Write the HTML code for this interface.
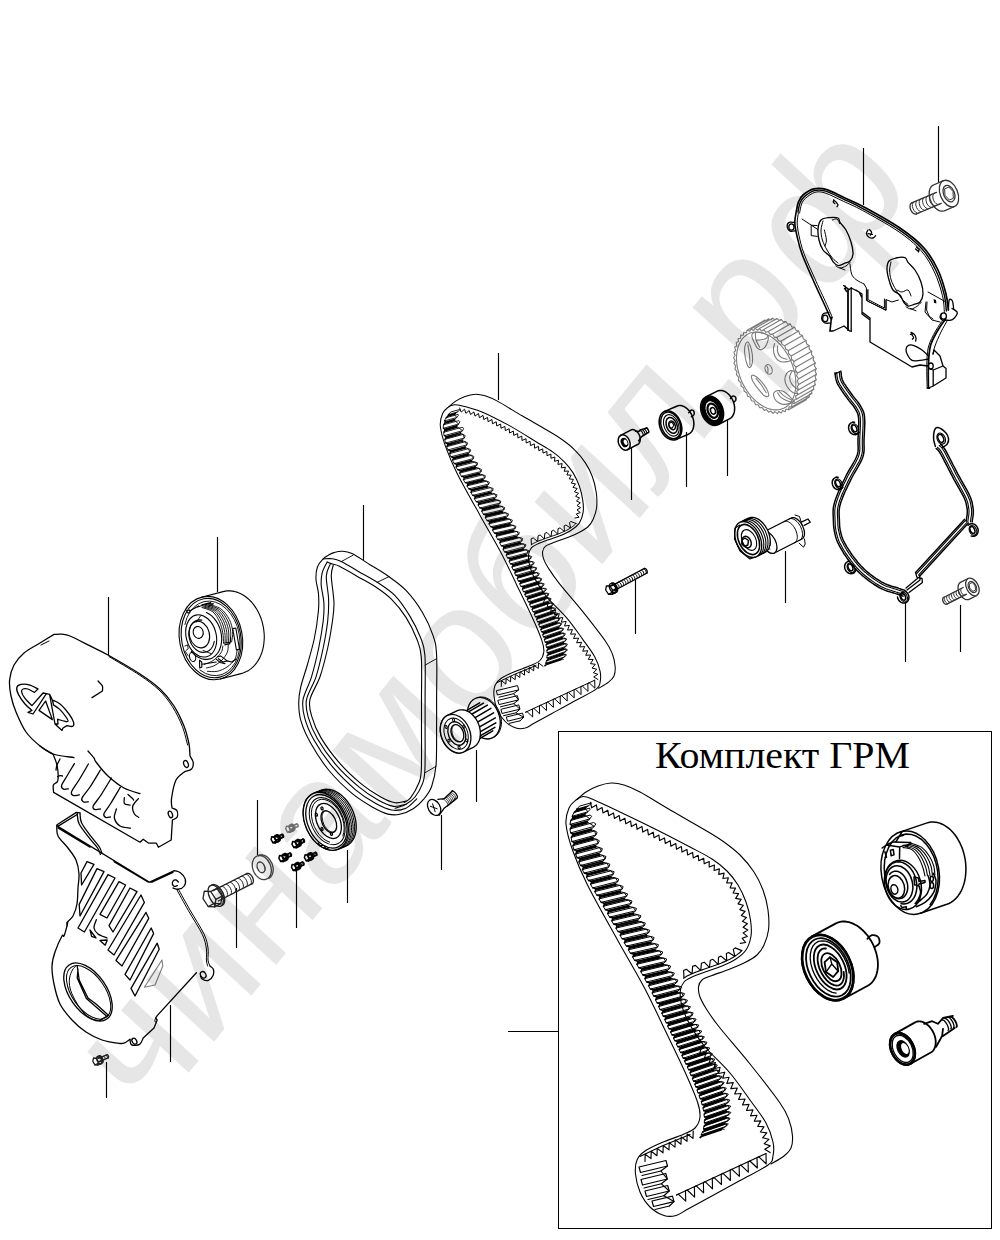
<!DOCTYPE html>
<html lang="ru">
<head>
<meta charset="utf-8">
<title>Комплект ГРМ</title>
<style>
html,body{margin:0;padding:0;background:#fff;}
body{width:1000px;height:1240px;overflow:hidden;position:relative;font-family:"Liberation Sans",sans-serif;}
svg{position:absolute;left:0;top:0;display:block;}
.k{fill:none;stroke:#000;stroke-width:1.3;stroke-linejoin:round;stroke-linecap:round;}
.kf{fill:#fff;stroke:#000;stroke-width:1.3;stroke-linejoin:round;stroke-linecap:round;}
.t{fill:none;stroke:#000;stroke-width:1.0;stroke-linejoin:round;stroke-linecap:round;}
.tf{fill:#fff;stroke:#000;stroke-width:1.0;stroke-linejoin:round;stroke-linecap:round;}
.g{fill:none;stroke:#7c7c7c;stroke-width:1.1;stroke-linejoin:round;stroke-linecap:round;}
.gf{fill:#fff;stroke:#888;stroke-width:1;stroke-linejoin:round;stroke-linecap:round;}
.b{fill:#000;stroke:none;}
.ld{fill:none;stroke:#000;stroke-width:1.15;}
.c2 *{stroke:#222;}.c3 *{stroke:#333;}.c4 *{stroke:#444;}.c7 *{stroke:#777;}
.w11 .k{stroke-width:1.1;}.w11 .t{stroke-width:0.9;}.w15 .k{stroke-width:1.5;}.w15 .t{stroke-width:1.1;}.w18 .k{stroke-width:1.8;}.w18 .t{stroke-width:1.3;}
</style>
</head>
<body>
<svg width="1000" height="1240" viewBox="0 0 1000 1240">
<!-- 01_box.svg -->
<rect x="558.5" y="731.5" width="433" height="497" fill="none" stroke="#000" stroke-width="1"/>
<text x="655" y="767.5" font-family="'Liberation Serif',serif" font-size="37" textLength="255" lengthAdjust="spacingAndGlyphs" fill="#000">Комплект ГРМ</text>
<!-- 02_leaders.svg -->
<g class="ld">
<path d="M938.5 126V182M863.5 148V205M498.5 353V400M363.5 505V560M217.5 537V592M108.5 597V655M631.5 447V500M686.5 432V487M727.5 420V476M785.5 551V603M635.5 580V634M905.5 603V662M960.5 605V652M476.5 750V802M441.5 815V870M347.5 850V903M296.5 870V928M257.5 800V855M236.5 888V948M170.5 1005V1062M106.5 1062V1098M508 1031.5H558"/>
</g>
<!-- 20_mainbelt.svg -->
<g stroke="#000" stroke-width="1.05" stroke-linejoin="round" stroke-linecap="round" fill="none">
<path d="M448.8 406.9C450 405.9 453 402.9 455.7 401.1C458.4 399.4 461.8 397.7 465 396.5C468.2 395.3 471.7 394.3 475 394.2C478.4 394 481.3 394.6 485.1 395.7C488.8 396.9 491.3 397.8 497.4 401.1C503.6 404.5 513.8 410.9 522.1 415.8C530.5 420.7 540.9 426.5 547.6 430.5C554.3 434.4 557.8 436.5 562.3 439.7C566.8 442.9 570.8 445.9 574.6 449.8C578.5 453.6 582.5 458.4 585.4 462.9C588.4 467.4 590.6 471.9 592.4 476.8C594.2 481.7 595.5 487.1 596.2 492.2C597 497.4 597.1 503.2 596.6 507.7C596.1 512.2 594.6 516 593.2 519.2C591.7 522.5 590.2 524.7 587.8 527C585.3 529.2 582 530.9 578.5 532.8C575 534.6 571.2 536.1 566.9 537.8C562.7 539.4 556.6 541.4 553 542.8C549.4 544.2 547 544.8 545.3 546.3C543.6 547.7 542.8 549.5 542.6 551.7C542.3 553.9 542.7 556.4 543.8 559.4C544.8 562.3 546.6 565.4 549.2 569.4C551.7 573.4 553.7 576.4 559.2 583.3C564.7 590.3 574.6 601.5 582.4 611.1C590.1 620.8 600.5 634 605.5 641.2C610.5 648.4 610.8 650.1 612.5 654.3C614.1 658.6 614.9 663.1 615.2 666.7C615.4 670.3 615.1 673.4 614 676C612.9 678.5 611.2 680.1 608.6 682.1C606 684.2 600.2 687.3 598.6 688.3"/>
<path d="M440.3 425.8C439.9 420.4 441.3 416.6 442.6 413.5C443.9 410.4 446.2 408.7 448 407.3C449.8 405.9 451.4 405.3 453.4 405C455.5 404.7 455.6 404.2 460.4 405.4C465.1 406.5 473.9 408.6 482 411.9C490.1 415.3 500 420.5 509 425.4C518 430.4 528.7 437.2 536 441.7C543.4 446.1 548.3 448.7 553 452.1C557.8 455.5 561.2 458.6 564.6 462.1C567.9 465.6 570.6 468.9 573.1 472.9C575.5 476.9 577.7 481.5 579.3 486C580.9 490.5 582.1 495.6 582.7 499.9C583.4 504.3 583.7 508.4 583.1 512.3C582.5 516.2 581.2 520.1 579.3 523.1C577.3 526.1 574.6 528 571.5 530C568.5 532.1 564.7 533.8 560.7 535.5C556.7 537.1 551.5 538.7 547.6 540.1C543.8 541.5 540.3 542.7 537.6 543.9C534.9 545.2 532.9 546.1 531.4 547.8C529.9 549.5 529.1 551.4 528.7 554C528.3 556.6 528.4 559.8 529.1 563.2C529.8 566.7 531.1 570.8 532.9 574.8C534.7 578.8 537.3 583.2 539.9 587.2C542.5 591.2 543.9 593.6 548.4 598.8C552.9 603.9 561.2 611.4 566.9 618.1C572.6 624.7 577.7 632.5 582.4 638.9C587 645.3 591.7 651.3 594.7 656.7C597.7 662.1 599.2 667.1 600.1 671.3C601 675.6 600.7 679.2 600.1 682.1C599.5 685.1 600.5 685.9 596.2 689.1C592 692.2 582.1 696.9 574.6 701C567.2 705.2 558.2 710.1 551.5 713.8C544.8 717.5 538.9 720.7 534.5 723C530.1 725.4 528.3 727.2 525.2 728.1C522.1 728.9 519.3 729.2 516 728.1C512.6 727 508.2 724.5 505.2 721.5C502.1 718.5 499.3 714.2 497.4 709.9C495.6 705.7 494.3 700.1 494 696C493.6 691.9 493.9 688.2 495.1 685.2C496.3 682.3 498.1 680.5 501.3 678.3C504.5 676 509.5 673.8 514.4 671.7C519.3 669.6 526.4 667.4 530.6 665.5C534.9 663.7 537.7 662.8 539.9 660.5C542.1 658.3 543.4 655.4 543.8 652C544.1 648.7 543.8 646.2 541.8 640.4C539.9 634.7 536.4 626.5 532.2 617.3C528 608 522 595.8 516.7 584.9C511.5 573.9 506.6 563.2 500.5 551.7C494.4 540.1 487.3 528.5 480.1 515.4C472.8 502.3 462.7 484.5 456.9 472.9C451.1 461.3 448.1 453.7 445.3 445.9C442.6 438.1 440.8 431.2 440.3 425.8Z"/>
<path d="M451.1 411.9L459.8 409.4L459.4 410.5L457.5 411.9L448.7 414.5ZM446.3 417.7L458.1 414.3L458.3 415.6L456.8 417.5L444.9 420.8ZM443.8 424.7L458.8 420.6L459.9 421.7L458.7 424L443.6 428.2ZM444 432.2L462 427.3L463.7 428.3L462.6 430.7L444.5 435.6ZM445.1 439.3L463.2 434.4L465.2 435.7L464.3 438L445.9 443ZM447 446.6L465.4 441.7L467.6 442.9L466.8 444.9L448.3 449.8ZM449.9 453.5L468.4 448.7L470.6 449.6L470 451.8L451.3 456.7ZM452.8 460.1L471.5 455.3L473.9 456.5L473.4 458.6L454.5 463.5ZM456.3 466.8L475.2 462L477.6 462.9L477.1 465L458.1 469.8ZM459.9 473L479 468.3L481.6 469.4L481.1 471.5L461.8 476.3ZM463.7 479.5L483 474.8L485.4 475.7L484.9 477.8L465.5 482.6ZM467.3 485.8L486.8 481.1L489.4 482.2L488.8 484L469.1 488.8ZM471.1 492.3L490.7 487.6L493.2 488.5L492.7 490.5L472.9 495.3ZM474.7 498.6L494.5 493.9L497 494.8L496.5 496.8L476.5 501.6ZM478.4 504.8L498.4 500.2L500.8 501.1L500.3 503.1L480.1 507.9ZM482 511.1L502.2 506.5L504.8 507.6L504.1 509.5L483.7 514.2ZM485.6 517.4L505.9 512.8L508.6 513.9L507.9 515.8L487.3 520.5ZM489.2 523.7L509.8 519.1L512.4 520.2L511.7 522.1L491 526.7ZM492.8 530L513.3 525.3L516 526.4L515.3 528.3L494.6 533ZM496.4 536.3L516.8 531.4L519.4 532.5L518.7 534.4L498.1 539.3ZM500 542.6L520.2 537.6L522.7 538.5L522.1 540.7L501.6 545.7ZM503.4 549L523.5 543.9L526 544.8L525.2 546.7L504.9 551.9ZM506.5 555L526.5 549.8L528.9 550.7L528.1 552.6L507.9 557.9ZM509.4 561.1L529.3 555.7L531.7 556.6L530.8 558.4L510.7 563.8ZM512.2 566.9L532 561.5L534.3 562.4L533.5 564.1L513.5 569.7ZM515 572.8L534.6 567.3L536.8 567.9L536 569.7L516.1 575.3ZM517.5 578.3L537 572.6L539.3 573.5L538.5 575.3L518.7 581ZM520 583.7L539.5 577.9L541.8 578.8L541 580.6L521.3 586.4ZM522.6 589.1L541.9 583.2L544.2 583.8L543.4 585.6L523.8 591.6ZM525.1 594.3L544.3 588.3L546.6 588.9L545.6 590.5L526.2 596.5ZM527.5 599.2L546.6 593.2L548.9 593.7L548 595.6L528.7 601.7ZM529.9 604.2L548.9 598L551.1 598.6L550.3 600.4L531.1 606.7ZM532.3 609.2L551.2 602.9L553.4 603.5L552.6 605.3L533.4 611.7ZM534.6 614.2L553.4 607.8L555.6 608.4L554.7 610.2L535.7 616.7ZM536.8 619.2L555.6 612.8L557.7 613.4L556.9 615.3L537.9 621.7ZM539 624.2L557.7 617.9L559.8 618.5L559 620.3L540 626.8ZM541 629.4L559.7 623L561.8 623.6L560.8 625.2L541.9 631.7ZM543 634.5L561.6 628.1L563.7 628.7L562.7 630.4L543.8 636.8ZM544.7 639.4L563.4 633.1L565.4 633.7L564.4 635.6L545.5 642.1ZM546.3 644.7L564.9 638.3L566.8 639L565.6 640.7L546.8 647.2ZM547.2 650.1L565.8 643.7L567.5 644.2L566.2 646.2L547.4 652.6ZM547.4 655.4L566 649L567.5 649.7L566 651.4L547.2 657.9ZM546.8 660.8L565.3 654.4L566.6 654.8L564.7 656.8L546 663.2Z" stroke-width="0.85"/><path d="M448.3 415.4L455.3 413.4M447.5 416.4L454.5 414.4M448.7 414.5L448.4 415.2L447.7 416.2L446.3 417.7M445.2 422.1L454.6 419.4M444.8 423.3L454.3 420.6M444.9 420.8L445.2 421.8L444.9 423L443.8 424.7M444.7 429.2L456.7 425.8M444.8 430.7L456.8 427.3M443.6 428.2L444.7 429.2L444.8 430.4L444 432.2M445.8 436.6L460.3 432.6M446.1 438L460.5 434.1M444.5 435.6L445.8 436.3L446 437.5L445.1 439.3M447.5 443.9L462.1 439.9M447.9 445.3L462.5 441.4M445.9 443L447.4 443.6L447.7 444.8L447 446.6M450.1 450.9L464.8 447M450.6 452.1L465.3 448.1M448.3 449.8L450 450.7L450.5 451.8L449.9 453.5M453 457.6L467.9 453.7M453.6 458.9L468.5 455M451.3 456.7L452.9 457.3L453.4 458.5L452.8 460.1M456.3 464.3L471.3 460.4M456.9 465.4L471.9 461.5M454.5 463.5L456.2 464.1L456.8 465.2L456.3 466.8M459.9 470.6L475.1 466.7M460.7 471.9L475.9 468M458.1 469.8L459.8 470.4L460.4 471.4L459.9 473M463.7 477.1L479 473.2M464.3 478.1L479.7 474.3M461.8 476.3L463.6 476.8L464.2 477.9L463.7 479.5M467.3 483.3L482.8 479.5M468.1 484.6L483.6 480.8M465.5 482.6L467.2 483.1L467.8 484.2L467.3 485.8M471.1 489.8L486.8 486M471.7 490.9L487.4 487.1M469.1 488.8L471 489.6L471.6 490.7L471.1 492.3M474.8 496.1L490.6 492.3M475.4 497.2L491.2 493.4M472.9 495.3L474.6 495.9L475.3 497L474.7 498.6M478.4 502.4L494.3 498.6M479.2 503.7L495.1 499.9M476.5 501.6L478.3 502.2L478.9 503.2L478.4 504.8M482 508.7L498.1 504.9M482.8 510L498.9 506.2M480.1 507.9L481.9 508.4L482.5 509.5L482 511.1M485.7 514.9L501.9 511.2M486.4 516.2L502.6 512.5M483.7 514.2L485.7 514.9L486.2 515.8L485.6 517.4M489.3 521.2L505.7 517.5M490 522.5L506.4 518.8M487.3 520.5L489.3 521.2L489.9 522.3L489.2 523.7M492.9 527.5L509.4 523.8M493.7 528.8L510.2 525.1M491 526.7L492.9 527.5L493.5 528.6L492.8 530M496.5 533.8L513 530M497.3 535.1L513.8 531.3M494.6 533L496.5 533.8L497.1 534.9L496.4 536.3M500.1 540.1L516.5 536.2M500.8 541.4L517.2 537.5M498.1 539.3L500.1 540.1L500.6 541L500 542.6M503.5 546.5L519.8 542.5M504.1 547.6L520.4 543.6M501.6 545.7L503.4 546.2L504 547.3L503.4 549M506.8 552.7L523 548.6M507.3 553.8L523.5 549.7M504.9 551.9L506.7 552.4L507.2 553.5L506.5 555M509.8 558.7L525.9 554.5M510.3 559.8L526.4 555.6M507.9 557.9L509.7 558.5L510.2 559.6L509.4 561.1M512.6 564.6L528.6 560.3M513.1 565.7L529.1 561.4M510.7 563.8L512.5 564.3L513 565.5L512.2 566.9M515.3 570.4L531.2 566.1M515.8 571.6L531.7 567.2M513.5 569.7L515.2 570.2L515.6 571.1L515 572.8M517.9 576.1L533.7 571.6M518.4 577.2L534.2 572.8M516.1 575.3L517.8 575.9L518.2 576.8L517.5 578.3M520.4 581.5L536.2 577M521 582.7L536.7 578.1M518.7 581L520.3 581.3L520.9 582.4L520 583.7M523 586.9L538.6 582.3M523.5 587.8L539.1 583.2M521.3 586.4L522.9 586.7L523.3 587.6L522.6 589.1M525.5 592.1L541.1 587.4M525.9 593L541.5 588.3M523.8 591.6L525.4 591.9L525.8 592.8L525.1 594.3M527.9 597.1L543.4 592.2M528.4 598.2L543.9 593.4M526.2 596.5L527.9 597.1L528.3 598L527.5 599.2M530.4 602.2L545.8 597.3M530.8 603.1L546.2 598.2M528.7 601.7L530.3 602L530.7 602.9L529.9 604.2M532.8 607.2L548.1 602.2M533.2 608.1L548.5 603.1M531.1 606.7L532.7 607L533.1 607.9L532.3 609.2M535.1 612.2L550.3 607.1M535.5 613.1L550.7 608M533.4 611.7L535 611.9L535.4 612.8L534.6 614.2M537.3 617.2L552.5 612M537.7 618.1L552.9 612.9M535.7 616.7L537.2 616.9L537.6 617.9L536.8 619.2M539.5 622.2L554.6 617.1M539.9 623.1L555 618M537.9 621.7L539.4 622L539.8 622.9L539 624.2M541.6 627.3L556.7 622.2M542 628.2L557 623.1M540 626.8L541.5 627.1L541.9 628L541 629.4M543.5 632.2L558.5 627.1M543.9 633.4L559 628.2M541.9 631.7L543.5 632.2L543.8 632.9L543 634.5M545.4 637.4L560.4 632.2M545.7 638.3L560.7 633.2M543.8 636.8L545.3 637.1L545.6 638.1L544.7 639.4M547 642.6L562 637.5M547.3 643.6L562.3 638.4M545.5 642.1L547 642.4L547.2 643.3L546.3 644.7M548.2 647.7L563.1 642.6M548.3 648.7L563.3 643.6M546.8 647.2L548.2 647.7L548.3 648.5L547.2 650.1M548.6 653.2L563.6 648.1M548.6 654.2L563.6 649.1M547.4 652.6L548.6 653L548.6 654L547.4 655.4M548.3 658.4L563.2 653.3M548.2 659.4L563.1 654.3M547.2 657.9L548.3 658.4L548.2 659.2L546.8 660.8M546.9 663.7L561.8 658.6M546.5 664.6L561.3 659.5M546 663.2L547 663.5L546.6 664.4L544.9 665.7" stroke-width="1.45"/><path d="M457.5 411.9L454.8 413.9L455 415.2L456.8 417.5L454.3 419.7L455.6 421.4L458.7 424L456.4 426.4L458.9 428L462.6 430.7L460 433.2L463.1 434.4L464.3 438L461.8 440.5L465.2 441.7L466.8 444.9L464.5 447.3L468.2 448.7L470 451.8L467.7 454.2L471.4 455.3L473.4 458.6L471.2 460.9L475 462L477.1 465L475 467.2L478.8 468.2L481.1 471.5L478.9 473.8L482.8 474.8L484.9 477.8L482.7 480L486.6 481L488.8 484L486.5 486.3L490.5 487.6L492.7 490.5L490.4 492.8L494.4 493.8L496.5 496.8L494.2 499.1L498.2 500.1L500.3 503.1L497.9 505.4L502 506.4L504.1 509.5L501.7 511.7L505.8 512.8L507.9 515.8L505.5 518L509.6 519.1L511.7 522.1L509.3 524.3L513.4 525.4L515.3 528.3L512.8 530.5L516.9 531.6L518.7 534.4L516.3 536.8L520.3 537.8L522.1 540.7L519.6 543L523.6 544L525.2 546.7L522.6 548.9L526.6 549.9L528.1 552.6L525.5 554.8L529.4 555.8L530.8 558.4L528.3 560.8L532.1 561.6L533.5 564.1L530.9 566.4L534.7 567.4L536 569.7L533.4 572L537.1 572.7L538.5 575.3L535.9 577.5L539.6 578L541 580.6L538.3 582.6L542 583.3L543.4 585.6L540.7 587.7L544.4 588.4L545.6 590.5L543.2 592.8L546.7 593.3L548 595.6L545.5 597.7L549 598.1L550.3 600.4L547.8 602.6L551.3 603L552.6 605.3L550 607.5L553.5 607.9L554.7 610.2L552.2 612.4L555.6 612.8L556.9 615.3L554.3 617.4L557.7 617.9L559 620.3L556.4 622.5L559.8 623L560.8 625.2L558.3 627.7L561.7 628.1L562.7 630.4L560.1 632.6L563.4 633.1L564.4 635.6L561.7 637.8L564.9 638.3L565.6 640.7L562.8 643.2L565.8 643.7L566.2 646.2L563.2 648.5L566 649L566 651.4L562.8 653.9L565.3 654.4L564.7 656.8L561.2 659L563.4 659.3" stroke-width="0.85"/>
<path d="M459.7 408.1L461.2 412.1L464.5 409.2L465.9 413.3L469.2 410.5L470.5 414.6L473.9 411.9L475 416.1L478.5 413.5L479.4 417.7L483 415.4L483.8 419.6L487.5 417.4L488.1 421.7L491.9 419.5L492.5 423.8L496.2 421.8L496.8 426L500.6 424L501 428.3L504.9 426.4L505.3 430.6L509.2 428.7L509.5 433L513.4 431.1L513.7 435.4L517.6 433.6L517.9 437.9L521.8 436.2L522 440.5L526 438.7L526.2 443L530.1 441.3L530.4 445.6L534.3 443.9L534.6 448.2L538.5 446.4L538.8 450.7L542.7 448.9L543 453.1L546.9 451.4L547 455.7L551 454.1L550.9 458.3L554.9 457L554.5 461.3L558.6 460.2L557.9 464.4L562.2 463.6L561.2 467.8L565.5 467.2L564.2 471.3L568.5 471L566.9 475L571.2 475.1L569.2 478.9L573.5 479.4L571.3 483.1L575.5 483.9L573 487.4L577.2 488.5L574.5 491.8L578.5 493.2L575.6 496.3L579.6 498L576.5 500.9L580.3 502.8L577 505.5L580.6 507.7L577 509.9L580.3 512.6L576.3 514L579 517.3L574.9 518" stroke-width="1.0"/>
<path d="M576 523.5L575.2 524.4L574.3 525.2L573.4 525.9L572.4 526.6L571.4 527.4L570.3 528.1L569.2 528.8L568 529.5L566.7 530.2L565.5 530.8L564.1 531.4L562.7 532.1L561.3 532.7L559.9 533.3L558.3 533.9L556.8 534.5L555.1 535.1L553.4 535.7L551.7 536.2L550 536.8L548.4 537.4L546.8 537.9L545.4 538.4L544 538.9L542.7 539.4L541.3 539.9L540.1 540.4L538.9 540.9L537.7 541.3L536.6 541.8L535.6 542.3L534.6 542.8L533.7 543.2L532.9 543.7L532 544.3L531.3 544.8" stroke-width="1.0"/>
<path d="M576 523.5L570.9 521.5L569.5 522.6L570.6 527.9L570.5 528L565.9 525L564.1 525.9L564.4 531.3L564.2 531.4L560 527.8L558 528.7L557.8 534.1L557.7 534.2L553.7 530.3L551.7 531L551.1 536.4L550.9 536.5L547 532.5L544.8 533.3L544.4 538.8L544.2 538.9L540.2 535L538.1 535.8L537.7 541.3L537.5 541.4L533.2 537.9L531.1 538.9L531.4 544.6L531.3 544.8" stroke-width="1.0"/>
<path d="M544.8 598.7L543.3 603.5L548.3 602.5L547 607.4L551.9 606.3L550.7 611.2L555.6 609.9L554.4 614.8L559.3 613.6L557.9 618.5L562.8 617.4L561.3 622.2L566.2 621.4L564.5 626L569.4 625.4L567.5 630.1L572.5 629.6L570.5 634.2L575.6 633.9L573.5 638.5L578.6 638.1L576.6 642.8L581.6 642.3L579.7 647L584.7 646.5L582.7 651.2L587.8 650.7L585.7 655.3L590.7 655L588.3 659.4L593.2 659.5L590.4 663.6L595.3 664.3L592.1 668.1L596.9 669.3L593.3 672.7L597.9 674.3L593.7 676.9L597.9 679.5" stroke-width="1.0"/>
<path d="M594.7 680.2L594.9 688.2L589.2 682.8L587.8 683.4L588 691.4L582.3 686L580.9 686.6L581.1 694.6L575.4 689.2L574 689.8L574.2 697.8L568.4 692.4L567.1 693L567.2 701L561.5 695.6L560.2 696.2L560.3 704.2L554.6 698.8L553.2 699.4L553.4 707.4L547.7 702L546.3 702.6L546.5 710.6L540.8 705.2L539.4 705.8L539.6 713.8L533.9 708.4L532.5 709L532.7 717L527 711.6L525.6 712.2" stroke-width="1.0"/>
<path d="M594.7 680.2L525.6 712.2" stroke-width="1.0"/>
<path d="M501.3 686.4L501.4 680.7L505.9 684.1L506.1 678.5L510.6 681.9L510.7 676.3L515.2 679.7L515.3 674.1L519.8 677.5L520 671.8L524.5 675.2L524.6 669.6L529.1 673L529.2 667.4L533.7 670.8L533.9 665.1L538.3 668.5L538.5 662.9L543 666.3" stroke-width="1.0"/>
<path d="M497.4 682.5L514.4 674.4L536 665.5" stroke-width="1.0"/>
<path d="M496.7 690.6L517.5 685.6L518.7 689.9L497.8 694.9ZM499 697.2L513.6 693.7M498.2 700.3L517.4 695.7L518.5 699.9L499.4 704.5ZM500.5 706.8L513.9 703.6M501.3 709.2L518.8 704.9L520 709.2L502.4 713.4ZM503.6 715.7L515.9 712.8M506.7 716.9L522.5 713.1L523.7 717.3L507.9 721.1ZM509 723.4L520.1 720.8" stroke-width="1.0"/>
<path d="M518.7 689.9L513.6 693.7L518.5 699.9L513.9 703.6L520 709.2L515.9 712.8L523.7 717.3L520.1 720.8" stroke-width="1.0"/>
</g>
<!-- 21_vbelt.svg -->
<g class="w11"><path class="k" d="M323.2 558.9C325 556.9 326.4 556.3 328.2 555.3C330 554.2 331.7 553.3 334 552.6C336.3 551.9 339.1 551 342.1 551.2C345.1 551.3 347.3 551.2 352 553.5C356.6 555.7 364 560.9 370 564.7C376 568.4 382 571.7 388 576C394 580.3 400.3 584.4 406 590.4C411.7 596.4 417.7 604.5 422.2 612C426.7 619.5 430.6 628.2 433 635.4C435.4 642.6 436 644.4 436.6 655.2C437.2 666 436.6 688.4 436.6 700C436.6 711.7 436.7 714.2 436.6 725C436.5 735.8 436.9 754.4 436.1 764.6C435.2 774.8 433.7 780.5 431.7 786.2C429.7 791.9 427.1 795 424 798.8C420.9 802.5 417.2 806.1 413.2 808.7C409.1 811.3 403.9 813.4 399.7 814.3C395.5 815.2 392.3 815.2 388 814.1C383.6 813 379.6 811.2 373.6 807.8C367.6 804.3 359.5 799.7 352 793.4C344.5 787.1 335.5 778.4 328.6 770C321.7 761.6 315.2 751.1 310.6 743C306 734.9 303 728 301.1 721.4C299.1 714.8 298.8 709.1 298.7 703.4C298.7 697.7 299.3 693.4 300.7 687.2C302.1 681 304.7 674 307 666C309.2 658 312.3 648 314.2 639C316.1 630 317.6 619.5 318.3 612C319.1 604.5 318.9 599.4 318.5 594C318.1 588.6 316.2 584.1 316 579.6C315.8 575.1 316.2 570.4 317.4 567C318.6 563.5 321.4 560.8 323.2 558.9Z"/>
<path class="k" d="M323.2 558.9C324.7 558.9 329.2 558.3 332.2 558.7C335.2 559.2 336.7 559.4 341.2 561.6C345.7 563.8 353.2 568.4 359.2 571.9C365.2 575.3 371.2 578.3 377.2 582.3C383.2 586.3 389.8 590.2 395.2 595.8C400.6 601.3 405.4 608.7 409.6 615.6C413.8 622.5 417.8 630.6 420.4 637.2C422.9 643.8 424.1 644.7 424.9 655.2C425.7 665.7 425 688.4 425.1 700C425.1 711.7 425.1 713.3 425.1 725C425 736.7 425.4 760.1 424.9 770C424.4 779.9 423.8 779.9 422.2 784.4C420.5 788.9 417.7 793.7 415 797C412.3 800.3 409.3 802.3 406 804.2C402.7 806.1 397 807.5 395.2 808.2"/>
<path class="k" d="M327.2 562C328.1 562.3 330.5 563.4 332.6 564.1C334.6 564.8 335.3 564.2 339.4 566.3C343.5 568.3 351.4 572.9 357.4 576.4C363.4 579.8 369.7 583 375.4 586.8C381.1 590.6 386.5 594.3 391.6 599.4C396.7 604.5 401.8 610.8 406 617.4C410.2 624 414.2 632.4 416.8 639C419.3 645.6 420.5 646.8 421.3 657C422.1 667.2 421.4 688.7 421.5 700C421.5 711.4 421.5 713.3 421.5 725C421.4 736.7 421.8 760.2 421.3 770C420.8 779.7 420.4 778.8 418.6 783.5C416.8 788.1 412.9 794.7 410.5 797.9C408.1 801 405.2 801.6 404.2 802.4"/>
<path class="k" d="M327.2 562C326.3 563.7 323.3 568.6 322.3 572.4C321.3 576.2 320.9 579.9 321.2 585C321.5 590.1 323.6 597 323.9 603C324.2 609 324.1 613.5 323.2 621C322.3 628.5 320.6 638.7 318.7 648C316.7 657.3 314.1 668.2 311.5 676.8C308.9 685.4 304.2 693 303 699.8C301.9 706.6 302.9 711.2 304.7 717.8C306.4 724.4 309.1 731.3 313.7 739.4C318.2 747.5 325.2 758 332.2 766.4C339.2 774.8 348.4 783.6 355.6 789.8C362.8 795.9 369.4 799.9 375.4 803.3C381.4 806.7 386.5 809.1 391.6 810C396.7 810.8 401.8 810 406 808.2C410.2 806.3 415 800.4 416.8 798.8"/>
<path class="k" d="M330.4 563.9C329.7 565.9 326.6 570.1 326.3 576C326 581.9 328.4 591.9 328.6 599.4C328.8 606.9 328.6 612.9 327.7 621C326.8 629.1 325.1 638.7 323.2 648C321.2 657.3 318.8 668.2 316 676.8C313.2 685.4 307.7 693 306.5 699.8C305.2 706.6 306.5 711 308.3 717.4C310.1 723.9 312.7 730.6 317.3 738.5C321.8 746.4 328.8 756.5 335.8 764.6C342.8 772.7 352.1 781.2 359.2 787.1C366.2 793 372.4 796.8 378.1 800.1C383.8 803.3 388.7 805.7 393.4 806.4C398 807 403.9 804.6 406 804.2"/>
<path class="k" d="M333.3 565.2C332.9 567 331.2 569.7 331.3 576C331.4 582.3 333.8 595.2 334 603C334.1 610.8 333.2 615.3 332.2 622.8C331.1 630.3 329.7 639 327.7 648C325.7 657 322.9 668.2 320 676.8C317 685.4 311.2 693.1 309.9 699.8C308.5 706.5 310 710.6 311.9 716.9C313.7 723.2 316.3 729.9 320.9 737.6C325.4 745.2 332.6 755 339.4 762.8C346.2 770.6 355 778.7 361.9 784.4C368.8 790.1 375.2 793.9 380.8 797C386.3 800.1 391 802.1 395.2 802.8C399.4 803.4 404.2 801.3 406 801"/>
<path class="t" d="M341.2 561.6L352.9 555.3M377.2 582.3L388.9 576.7M425.1 665.1L436.4 658.8M425.1 772.7L435.9 766.4"/></g>
<!-- 22_ucover.svg -->
<g><path class="k" d="M54 634.4C55.3 634.4 59.3 633.9 62 634.2C64.7 634.5 65.5 634.1 70 636C74.5 637.9 82.7 642.2 89 645.4C95.3 648.6 99.5 650.2 108 655C116.5 659.8 131.3 668.3 140 674C148.7 679.7 154.3 683.7 160 689C165.7 694.3 170 699.8 174 706C178 712.2 181.5 719.7 184 726C186.5 732.3 188 739 189 744C190 749 189.8 754 190 756C190.5 757.1 192.9 760.2 193.2 762.4C193.5 764.6 193 767.5 191.6 769C190.2 770.5 186.1 771 185 771.4C183.5 772.8 178.2 775.6 176 780C173.8 784.4 172.3 793.3 171.6 798C170.9 802.7 171.9 806.3 172 808C172.8 808.4 175.9 808.9 176.8 810.4C177.7 811.9 177.9 815.4 177.2 817C176.5 818.6 173.2 819.5 172.4 820L171.2 840L158.4 847.2L156.4 843.2L148.4 843L143.2 839.2L140 842.2L53.6 792.4C53.6 791.2 52.7 787 53.4 785C54.1 783 57.2 783.8 57.8 780.6C58.4 777.4 58 770.4 57.2 766C56.4 761.6 53.7 756 53 754C50.8 752.7 44.5 749.7 40 746C35.5 742.3 30 737.7 26 732C22 726.3 18.5 718 16 712C13.5 706 12.1 701.3 11 696C9.9 690.7 9.1 685.2 9.6 680C10.1 674.8 11.6 669.5 14 665C16.4 660.5 19.7 656.7 24 653C28.3 649.3 35 646.1 40 643C45 639.9 51.7 635.8 54 634.4Z"/>
<path class="t" d="M109 656.6C114.2 659.7 131.7 669.8 140 675.4C148.3 681 153.6 684.8 159 690C164.4 695.2 168.5 700.5 172.4 706.6C176.3 712.7 179.9 720.2 182.4 726.6C184.9 733 186.7 741.9 187.6 745"/>
<ellipse class="k" cx="186" cy="764" rx="2.2" ry="3.6" transform="rotate(-20 186 764)"/>
<ellipse class="k" cx="170.4" cy="814.4" rx="2" ry="3.4" transform="rotate(-20 170.4 814.4)"/>
<path class="t" d="M41 645L49 641"/>
<path class="k" d="M98 681C98.7 681.8 101.7 684.3 102.4 686C103.1 687.7 102.4 690.2 102.4 691M102.4 691L92 697.6"/>
<path class="k" d="M40 746C42.2 747.3 47.3 752.1 53 754C58.7 755.9 70.5 757 74 757.6"/>
<path class="k" d="M88 751C89 752.2 92.7 756.2 94 758C95.3 759.8 93.7 759 96 762C98.3 765 103.3 771.7 108 776C112.7 780.3 118.7 785.1 124 788C129.3 790.9 137.3 792.7 140 793.6"/>
<path class="k" d="M60 759C59.5 760 57.7 763.2 57 765C56.3 766.8 56.2 769.2 56 770"/>
<path class="k" d="M74.4 763.6C73.2 765.7 69.1 772.3 67 776C64.9 779.7 62.2 783.4 61.6 785.6C61 787.8 62.5 788.7 63.6 789.2C64.7 789.7 67.6 788.9 68.4 788.8"/>
<path class="k" d="M88.4 764C86.8 766.7 81.8 775.4 79 780C76.2 784.6 72.5 789 71.6 791.6C70.7 794.2 72.3 795.1 73.6 795.6C74.9 796.1 78.4 794.9 79.4 794.8"/>
<path class="k" d="M100.4 770C98.7 772.8 93.1 782.3 90 787C86.9 791.7 83.1 795.5 82 798C80.9 800.5 82.5 801.4 83.6 802C84.7 802.6 87.6 801.8 88.4 801.8"/>
<path class="k" d="M111.4 778C109.7 780.8 104 790.3 101 795C98 799.7 94.2 803.6 93.2 806C92.2 808.4 94 809.1 95.2 809.6C96.4 810.1 99.5 809.1 100.4 809"/>
<path class="k" d="M120.4 787.2C118.8 789.8 113.7 798.6 111 803C108.3 807.4 104.9 811.2 104 813.6C103.1 816 104.5 816.8 105.6 817.4C106.7 818 109.6 817.1 110.4 817"/>
<path class="k" d="M116.4 809C116.1 810.5 113.8 815.2 114.4 818C115 820.8 117.3 824.3 120 826C122.7 827.7 128.7 827.8 130.4 828.2"/>
<path class="k" d="M124.4 797.6C124.4 798.6 123.5 802.3 124.4 803.6C125.3 804.9 129.1 804.9 130 805.2"/>
<path class="k" d="M138.4 798.6C137.5 799.8 133.5 803.4 132.8 806C132.1 808.6 133.4 812.1 134.4 814C135.4 815.9 138.1 816.8 138.8 817.4"/>
<path class="k" d="M128 794.4C128.7 795 131.1 797.1 132 798C132.9 798.9 133.3 799.7 133.6 800"/>
<path class="k" d="M57.6 776.6C58 776.4 59.2 775.7 60 775.6C60.8 775.5 62 775.9 62.4 776"/>
<path class="k" d="M38 689C36.7 688.3 32.8 685.8 30 685C27.2 684.2 23.2 684 21 684.4C18.8 684.8 17.2 685.9 16.8 687.6C16.4 689.3 17 691.7 18.4 694.4C19.8 697.1 22.7 701.3 25 704C27.3 706.7 30.8 709.3 32 710.4M34.4 692.4C33.3 691.8 29.9 689.6 28 689C26.1 688.4 24.1 688.5 23 689C21.9 689.5 21.3 690.4 21.6 692C21.9 693.6 23.3 696.1 25 698.4C26.7 700.7 30.8 704.4 32 705.6M38 689L34.4 692.4M52.4 700C53.7 700.7 57.2 701.7 60 704C62.8 706.3 66.7 710.9 69 714C71.3 717.1 73 720.3 73.6 722.4C74.2 724.5 73.5 725.9 72.4 726.4C71.3 726.9 67.9 725.7 67 725.6M53.6 705C54.7 705.8 57.9 707.6 60 709.6C62.1 711.6 64.7 715.1 66 717C67.3 718.9 68.3 720.5 68 721.2C67.7 721.9 66.1 721.5 64.4 721.2C62.7 720.9 58.7 719.5 57.6 719.2M52.4 700L53.6 705M32 710.4L28 712.4L33 714L46.4 693.6L49.6 694.4L52.4 700M32 705.6L43 693L46.4 693.6M49.6 694.4L55 724L62 730.4L63 728L67 725.6M57.6 719.2L58 724L55 724M45.6 701L39 710.4L52.4 719.6Z"/></g>
<!-- 23_lcover.svg -->
<g><path class="k" d="M57 824.8L76.4 812.4L80 812.8M57.8 826.4L77.6 814.2"/>
<path class="k" d="M56.6 825.6L149.6 882.2L174.4 870.6M58 828L90 847.2M114 861.6L148 882L152.4 882L173 872.4"/>
<path class="k" d="M174.4 870.6C175.4 871 178.6 871.4 180.4 872.8C182.2 874.2 184.6 876.6 185.2 878.8C185.8 881 185.3 884.3 184.2 886C183.1 887.7 180.3 888.9 178.4 889.2C176.5 889.5 173.9 888.2 173 888"/>
<path class="k" d="M177.4 885.6C176.9 885.7 175.2 886.7 174.4 886.4C173.6 886.1 172.6 884.9 172.4 884C172.2 883.1 172.6 881.5 173.2 880.8C173.8 880.1 175.1 879.8 176 880C176.9 880.2 178 881.7 178.4 882"/>
<path class="k" d="M77.2 813.6C77.5 815.3 77.1 819.9 79.2 824C81.3 828.1 86.5 834.4 89.6 838.4C92.7 842.4 95.8 845.3 97.6 848C99.4 850.7 99.9 853.3 100.4 854.4M80 813.2C80.3 814.8 79.7 819.1 81.6 823C83.5 826.9 88.2 832.6 91.2 836.6C94.2 840.6 97.6 844.2 99.4 847C101.2 849.8 101.6 852.5 102 853.6"/>
<path class="k" d="M56.8 825.6C57 827.3 56.1 832.3 58 836C59.9 839.7 65 844 68 848C71 852 74.2 855.7 76 860C77.8 864.3 78.7 869.3 79 874C79.3 878.7 78.3 883 78 888C77.7 893 77.8 899.3 77 904C76.2 908.7 74.4 913.2 73 916C71.6 918.8 69.4 919.5 68.4 921C67.4 922.5 67.9 922.5 67.2 925C66.5 927.5 64.9 934.2 64 936C63.1 937.8 63.5 933.3 62 936C60.5 938.7 56.7 947 55 952C53.3 957 52.2 960.7 52 966C51.8 971.3 52.7 977.7 54 984C55.3 990.3 57 998 60 1004C63 1010 67.7 1015.3 72 1020C76.3 1024.7 81 1028.7 86 1032C91 1035.3 96.7 1038.1 102 1040C107.3 1041.9 114.3 1042.7 118 1043.2C121.7 1043.7 122 1043.8 124 1043.2C126 1042.6 129 1040 130 1039.4"/>
<path class="t" d="M68.4 921C68.1 921.2 66.8 921.6 66.6 922.4C66.4 923.2 67.1 925.4 67.2 926"/>
<path class="k" d="M130 1039.4C130.3 1040.3 130 1044 131.6 1044.8C133.2 1045.6 137.7 1045.5 139.6 1044.4C141.5 1043.3 142.6 1039.1 143.2 1038M143.2 1038L154 1028L157.2 1020L155.6 1018L157.2 1015.6L196.4 972.8"/>
<ellipse class="k" cx="134.4" cy="1041.2" rx="2.2" ry="3.2" transform="rotate(-30 134.4 1041.2)"/>
<path class="t" d="M155.6 1018C155.5 1018.5 154.7 1020.3 154.8 1021C154.9 1021.7 155.8 1022.2 156 1022.4"/>
<path class="t" d="M178.4 889.2C180.3 892.7 185.7 902.5 190 910C194.3 917.5 201 927.7 204 934C207 940.3 207.3 943.7 208 948C208.7 952.3 207.7 957 208 960C208.3 963 209.7 965 210 966M176.8 889.6C178.7 893.1 184.1 903.1 188.4 910.6C192.7 918.1 199.4 928.2 202.4 934.6C205.4 941 205.7 944.8 206.4 949C207.1 953.2 206.2 957.2 206.4 960C206.6 962.8 207.4 965 207.6 966"/>
<path class="k" d="M210 966C210.6 966.5 212.9 967.7 213.4 969.2C213.9 970.7 214 973.3 213.2 975.2C212.4 977.1 210.2 979.7 208.4 980.4C206.6 981.1 203.7 979.9 202.4 979.2C201.1 978.5 200.7 976.5 200.4 976"/>
<ellipse class="k" cx="203.2" cy="974.8" rx="2.6" ry="3.4" transform="rotate(-30 203.2 974.8)"/>
<ellipse class="k" cx="88" cy="992" rx="33" ry="18.5" transform="rotate(55 88 992)"/>
<ellipse class="t" cx="88.6" cy="992.4" rx="30.5" ry="16.5" transform="rotate(55 88.6 992.4)"/>
<path class="t" d="M76.4 965.6C75.7 966.3 73.5 967.9 72.4 970C71.3 972.1 70 975 69.6 978C69.2 981 69.1 984.3 70 988C70.9 991.7 72.8 996 75 1000C77.2 1004 80.2 1008.8 83 1012C85.8 1015.2 89.2 1017.6 92 1019C94.8 1020.4 98.7 1020.2 100 1020.4"/>
<path class="k" d="M77.2 966L79.2 980L88 998L96 1004L108.4 1015.2M78 969L77.2 978L86.4 998.4L94.4 1005.6L107 1016.4M100 1020.4L108.4 1015.2"/>
<path class="k" d="M87 861.6L94 864.4L81.6 885L81 873Z"/>
<path class="k" d="M97 868.6L104 871.6L80 916L79.2 904.4Z"/>
<path class="k" d="M108 874.6L115 878L84.4 932L78 928Z"/>
<path class="k" d="M119 881.6L125.6 885L107 918L100 914.4Z"/>
<path class="k" d="M130 888L137 891.6L113 932L109 925.6Z"/>
<path class="k" d="M141 895L144.4 902.4L114 955L108 950Z"/>
<path class="k" d="M146 912.4L148.8 918.4L122 966L116 960.4Z"/>
<path class="k" d="M151.2 928L153.6 933.6L130 980L125 974.4Z"/>
<path class="k" d="M157.2 943.2L159.2 949.2L135 996L131 988.4Z"/>
<path class="g" d="M162 960L162.8 966L155 985L144.4 987.2Z"/>
<path class="k" d="M96.4 919.6C96 921 93.7 925.6 94 928C94.3 930.4 95.8 932.3 98 934C100.2 935.7 105.5 937.3 107 938M90 930L96 938L91.6 936.4ZM100 940.4L107.2 940L105.2 945.2Z"/></g>
<!-- 24_rcover.svg -->
<g><path class="k" d="M796.4 211C796.7 209.5 797.3 204.7 798.4 202C799.5 199.3 800.4 197.2 803 195C805.6 192.8 810.2 189.7 814 188.8C817.8 187.9 820.8 187.9 826 189.4C831.2 190.9 838.7 195.1 845 198C851.3 200.9 854.8 202 864 207C873.2 212 890 221.2 900 228C910 234.8 917.7 241 924 248C930.3 255 934.3 262.3 938 270C941.7 277.7 944.3 287.3 946 294C947.7 300.7 948 307.3 948.4 310" style="stroke-width:1.7"/>
<path class="k" d="M798 212C798.3 210.5 798.9 205.6 800 203C801.1 200.4 802 198.7 804.4 196.6C806.8 194.5 810.9 191.5 814.4 190.6C817.9 189.7 820.6 189.7 825.6 191.2C830.6 192.7 838.1 196.7 844.4 199.6C850.7 202.5 854.1 203.8 863.2 208.8C872.3 213.8 889.1 222.9 899 229.6C908.9 236.3 916.2 242.3 922.4 249.2C928.6 256.1 932.6 263.4 936.2 271C939.8 278.6 942.5 287.9 944.2 294.6C945.9 301.3 946 308.3 946.4 311" style="stroke-width:1.4"/>
<path class="t" d="M799.6 213C799.9 211.5 800.6 206.5 801.6 204C802.6 201.5 803.4 200.1 805.6 198.2C807.8 196.3 811.5 193.3 814.8 192.4C818.1 191.5 820.4 191.5 825.2 193C830 194.5 837.4 198.5 843.6 201.4C849.8 204.3 853.3 205.4 862.4 210.4C871.5 215.4 888.2 224.5 898 231.2C907.8 237.9 914.9 243.8 921 250.6C927.1 257.4 930.8 264.5 934.4 272C938 279.5 940.7 288.7 942.4 295.4C944.1 302.1 944.1 309.6 944.4 312.4"/>
<path class="k" d="M796.4 211C796.1 212.9 794.7 218.2 794.8 222.4C794.9 226.6 795.8 230.7 797 236C798.2 241.3 799.2 246.3 802 254C804.8 261.7 810 273 814 282C818 291 823.2 301.8 826 308C828.8 314.2 830.1 317.3 831 319C831.9 320.7 831.6 316 831.4 318C831.2 320 830.2 328.8 830 331" style="stroke-width:1.6"/>
<path class="t" d="M798.4 213C798.2 214.7 797.1 219.2 797.2 223C797.3 226.8 797.9 230.5 799 235.6C800.1 240.7 801.2 246 804 253.6C806.8 261.2 812 272.3 816 281.2C820 290.1 825.3 301.1 828 307.2C830.7 313.3 831.7 315.9 832.4 317.6"/>
<path class="k" d="M794.8 222.4C793.8 222.4 790.3 221.6 789 222.4C787.7 223.2 787 225.5 787.2 227C787.4 228.5 788.6 230.6 790 231.2C791.4 231.8 794.7 230.9 795.6 230.8"/>
<ellipse class="k" cx="791.4" cy="227" rx="2.6" ry="3.2"/>
<path class="k" d="M829 312.4C828.1 312.6 824.8 312.6 823.6 313.6C822.4 314.6 821.5 316.9 821.6 318.4C821.7 319.9 823 322 824.4 322.8C825.8 323.6 829.1 323.1 830 323.2"/>
<ellipse class="k" cx="825.2" cy="318.4" rx="2.6" ry="3.2"/>
<path class="k" d="M830 331L833.2 331L844 326L850 331.2L851.2 331.2"/>
<path class="k" d="M848 300L848 330M848 290L848 328" style="stroke-width:1.8"/>
<path class="k" d="M851.2 288L851.2 330M851.2 290L851.2 331.2"/>
<path class="k" d="M843.6 285.6L849 289.6L851.2 288M844.4 288.4L846.8 291.6M845.2 286L846 291"/>
<path class="k" d="M821 220C822.8 218.1 826.2 217.9 829 217.6C831.8 217.3 836.2 217.2 838 218C839.8 218.8 838.7 220.4 840 222.4C841.3 224.4 844.2 226.7 846 230C847.8 233.3 849.8 238 851 242C852.2 246 853.2 250.8 853 254C852.8 257.2 851.5 259.4 850 261C848.5 262.6 846 262.8 844 263.6C842 264.4 839.7 265.8 838 265.6C836.3 265.4 835 264 833.6 262.4C832.2 260.8 831.4 258.1 829.6 256C827.8 253.9 824.8 252.7 823 250C821.2 247.3 819.8 243.5 819 240C818.2 236.5 817.7 232.3 818 229C818.3 225.7 819.2 221.9 821 220Z"/>
<path class="t" d="M823 221C822.7 222.5 821.1 226.8 821 230C820.9 233.2 821.4 236.7 822.4 240C823.4 243.3 825.3 247 827 250C828.7 253 830.6 255.8 832.4 258C834.2 260.2 837.1 262.2 838 263"/>
<path class="t" d="M836 266C836.7 266.3 838.3 268 840 268C841.7 268 844.3 266.9 846 266C847.7 265.1 849.3 263 850 262.4M840 268L845 270"/>
<path class="t" d="M824.4 230C824.7 231.7 826.3 237.3 826.4 240C826.5 242.7 825.2 245 825 246M832.4 220C833.2 219.8 835.8 218.4 837 219C838.2 219.6 839.2 222.8 839.6 223.6"/>
<path class="k" d="M889 261C890.5 259.2 893.3 258.6 896 258C898.7 257.4 903 256.9 905 257.6C907 258.3 906.3 260.3 908 262.4C909.7 264.5 912.8 266.7 915 270C917.2 273.3 919.7 278 921 282C922.3 286 923.2 290.7 923 294C922.8 297.3 921.5 300.3 920 302C918.5 303.7 916 303.7 914 304.4C912 305.1 909.7 306.4 908 306C906.3 305.6 904.9 303.8 903.6 302C902.3 300.2 901.8 297 900 295C898.2 293 894.8 292.5 893 290C891.2 287.5 890 283.5 889 280C888 276.5 887 272.2 887 269C887 265.8 887.5 262.8 889 261Z"/>
<path class="t" d="M891 262C890.8 263.3 889.6 267 889.6 270C889.6 273 890.1 276.7 891.2 280C892.3 283.3 894.2 286.8 896 290C897.8 293.2 900 296.6 902 299C904 301.4 907 303.5 908 304.4"/>
<path class="t" d="M906 306.8C906.8 307.2 909.2 309.1 911 309C912.8 308.9 915.3 307.5 917 306.4C918.7 305.3 920.3 303.1 921 302.4M910 308.4L916 310.8"/>
<path class="t" d="M897 290C897.8 290.3 900.2 292 902 292C903.8 292 906.5 289.3 908 290C909.5 290.7 910.5 295 911 296"/>
<path class="k" d="M833.6 200C834 200.3 835.3 201.2 836 202C836.7 202.8 837.8 204.2 838 205C838.2 205.8 837.2 206.3 837 206.6M834 200C833.9 200.3 833.1 201.4 833.2 202C833.3 202.6 834.5 203.3 834.8 203.6"/>
<path class="k" d="M868 230C867.7 230.6 866.2 232.4 866.4 233.6C866.6 234.8 867.9 236.5 869 237.2C870.1 237.9 871.9 238.3 873 238C874.1 237.7 875.2 236 875.6 235.6M869.6 229.6C869.9 230.1 871.5 231.5 871.6 232.4C871.7 233.3 870.6 234.7 870.4 235.2M868 233.6L872.4 234.4"/>
<path class="k" d="M916.4 247L919.2 249.6L918.4 252M915.6 249L917.6 250.8"/>
<path class="t" d="M802 219L818 229.6M817.2 225.6L811.2 225.2L811.2 235.6L817.2 236.4"/>
<path class="t" d="M850 264C850.3 265.7 850.6 271.4 851.6 274C852.6 276.6 853.9 277.9 856 279.6C858.1 281.3 862.7 283.3 864 284M864 284L866.4 288L866.4 300.4L886 310.4L886 299.6L892 302L898.4 300"/>
<path class="t" d="M868 289.6L868 299.6L884.4 308L884.4 299"/>
<path class="k" d="M851.2 288L859 292L862 298L862 314L870 320L870 330M856 290L862 294L862 312L870 318L870 342L912 367L920 365L928 366"/>
<path class="t" d="M867.2 290L867.2 301L886 310L886 300"/>
<path class="t" d="M928 292L946 302M927 302L926.6 310L929 316L933 319M926 302L925 312L932 320L940 322"/>
<path class="b" d="M933.6 299L936 300L936.4 303.6L934 302.8Z"/>
<path class="k" d="M948.4 310C948.5 308.3 948.5 301.5 949.2 300C949.9 298.5 951.7 299.7 952.4 301C953.1 302.3 953.4 306.8 953.6 308M952 308.4C952.9 309.1 956.8 310.8 957.2 312.4C957.6 314 955.6 316.7 954.4 318C953.2 319.3 951.6 320.1 950 320.4C948.4 320.7 945.8 320.1 945 320"/>
<ellipse class="k" cx="943.6" cy="316" rx="2.8" ry="3.2"/>
<path class="k" d="M941.2 314C941 314.5 939.9 316 940 317C940.1 318 941.1 319.5 942 320C942.9 320.5 945 320 945.6 320"/>
<path class="k" d="M945.6 319C944.3 320.8 940.5 325.5 938 330C935.5 334.5 932 340 930.4 346C928.8 352 928.7 359 928.4 366C928.1 373 928.4 384.3 928.4 388" style="stroke-width:1.7"/>
<path class="t" d="M943.2 319.6C941.9 321.5 938.1 326.4 935.6 331C933.1 335.6 929.9 341.2 928.4 347C926.9 352.8 927 359.2 926.8 366C926.6 372.8 927.1 384.3 927.2 388M947.6 320C946.5 322 943.1 327.7 941 332C938.9 336.3 936.3 342.3 935 346C933.7 349.7 933.3 352.7 933 354"/>
<path class="k" d="M927.2 388L929.6 388.4"/>
<path class="k" d="M933 354L934 350L940 356L943 366L946 368.4L946 378L933.2 386L933.2 370L943 366M928.4 388L933.2 386M933.2 370L930 369"/>
<ellipse class="k" cx="930.8" cy="366" rx="2.4" ry="3"/>
<path class="k" d="M928.4 359C927 359.2 922.7 360.2 920 360.4C917.3 360.6 914.1 361.3 912 360.4C909.9 359.5 908.6 356.9 907.6 355C906.6 353.1 905.8 350.6 906 349C906.2 347.4 907.7 345.8 909 345.2C910.3 344.6 911.8 344.8 914 345.6C916.2 346.4 919.6 348.3 922 350C924.4 351.7 927.3 355 928.4 356"/>
<path class="k" d="M911 332.4C911.6 332.7 913.6 333.5 914.4 334.4C915.2 335.3 915.8 336.9 916 338C916.2 339.1 915.7 340.5 915.6 341M912 335C912.3 335.4 913.5 336.9 913.6 337.6C913.7 338.3 912.6 338.9 912.4 339.2M910.4 334.4L912.8 333.6"/></g>
<!-- 25_gasket.svg -->
<g><g class="w15"><path class="k" d="M835 372.8L835.1 373.5L835.2 374.3L835.3 375.4L835.5 376.8L835.7 378.2L836.1 379.9L836.6 381.6L837.3 383.3L838.2 385L839.2 386.7L840.4 388.5L841.6 390.4L842.9 392.2L844.1 394L845.4 395.7L846.6 397.4L847.8 399L849 400.6L850.3 402.2L851.5 403.7L852.7 405.1L853.7 406.5L854.6 407.8L855.4 409.1L856.1 410.4L856.7 411.5L857.2 412.4L857.6 413.3L857.9 414.2L858.2 415.2L858.4 416.6L858.6 418.2L858.7 420.3L858.8 422.8L858.7 425.6L858.6 428.5L858.4 431.5L858.3 434.5L858.1 437.3L858 439.9L858 442.3L858 444.4L858.1 446.3L858.2 448.1L858.1 449.8L858 451.4L857.7 453.1L857.2 455L856.3 457.2L855.2 459.5L853.9 462L852.4 464.6L850.8 467.3L849.2 470L847.7 472.6L846.3 475.2L845.1 477.7L843.9 480.2L842.7 482.6L841.5 485L840.5 487.3L839.4 489.6L838.5 491.8L837.6 493.9L836.9 495.8L836.2 497.6L835.6 499.3L835 501L834.5 502.6L834.1 504.2L833.7 505.9L833.4 507.5L833.2 509.3L833.1 511L833.1 512.7L833.1 514.3L833.2 515.8L833.3 517.3L833.3 518.8L833.4 520.1L833.4 521.4L833.5 522.7L833.5 523.9L833.6 525.1L833.7 526.4L833.8 527.7L834 529.1L834.3 530.6L834.6 532L834.9 533.5L835.2 535L835.6 536.6L836.1 538.3L836.7 540L837.4 541.8L838.3 543.7L839.3 545.6L840.4 547.7L841.6 549.7L842.9 551.9L844.2 554L845.7 556.1L847.1 558.2L848.6 560.2L850.1 562.1L851.6 564.1L853.1 566L854.7 567.9L856.4 569.8L858.2 571.6L860.1 573.5L862 575.3L864.1 577L866.4 578.8L868.7 580.6L871.1 582.3L873.5 584L875.9 585.5L878.3 587L880.6 588.3L882.9 589.4L885.3 590.4L887.6 591.2L889.9 591.9L892 592.6L893.9 593.1L895.6 593.6L897.1 594L898.3 594.5L899.4 594.8L900.3 595.1L901.1 595.4L901.7 595.6L902.2 595.8L902.7 595.9L903.1 596M841 372L841.1 372.8L841.2 373.7L841.3 374.8L841.4 375.9L841.6 377.1L841.9 378.3L842.2 379.5L842.7 380.7L843.4 382.1L844.3 383.6L845.4 385.2L846.5 386.9L847.8 388.7L849 390.5L850.3 392.2L851.4 393.8L852.6 395.4L853.7 396.9L854.9 398.4L856.2 399.9L857.4 401.4L858.6 403L859.6 404.5L860.6 406.1L861.3 407.4L862 408.6L862.6 409.8L863.2 411.1L863.7 412.5L864.1 414L864.4 415.7L864.6 417.8L864.7 420.1L864.8 422.8L864.7 425.8L864.6 428.8L864.4 431.8L864.3 434.8L864.1 437.6L864 440.1L864 442.2L864 444.2L864.1 446.1L864.1 448.1L864.1 450.1L863.9 452.2L863.5 454.5L862.8 457L861.8 459.6L860.6 462.2L859.1 464.9L857.6 467.7L856 470.4L854.4 473L853 475.5L851.7 478L850.5 480.4L849.3 482.8L848.1 485.2L847 487.6L845.9 489.8L844.9 492L844 494.1L843.2 496.1L842.4 498L841.8 499.7L841.2 501.3L840.7 502.8L840.3 504.2L839.9 505.6L839.6 507L839.4 508.5L839.2 509.8L839.1 511.2L839.1 512.7L839.1 514.1L839.2 515.5L839.2 517L839.3 518.4L839.4 519.9L839.4 521.2L839.5 522.5L839.5 523.7L839.6 524.8L839.6 525.9L839.7 527L839.9 528.2L840.1 529.4L840.4 530.8L840.7 532.2L841 533.6L841.4 535L841.8 536.5L842.4 537.9L843 539.5L843.7 541.1L844.6 542.8L845.6 544.7L846.7 546.7L848 548.7L849.3 550.7L850.6 552.7L852 554.7L853.4 556.6L854.8 558.5L856.3 560.3L857.7 562.2L859.3 563.9L860.8 565.7L862.5 567.4L864.2 569.1L866 570.7L867.9 572.4L870 574.1L872.3 575.8L874.5 577.4L876.8 579L879.1 580.4L881.3 581.8L883.4 582.9L885.4 583.9L887.5 584.8L889.6 585.5L891.6 586.2L893.7 586.8L895.6 587.3L897.4 587.8L898.9 588.4L900.2 588.8L901.3 589.2L902.2 589.5L902.9 589.7L903.6 589.9L904.1 590.1L904.5 590.2L904.9 590.4"/><path class="t" d="M839.3 372.2L839.4 373L839.5 373.9L839.6 375L839.7 376.2L839.9 377.4L840.2 378.8L840.6 380.1L841.2 381.5L841.9 382.9L842.9 384.5L843.9 386.2L845.1 387.9L846.4 389.7L847.6 391.5L848.9 393.2L850.1 394.8L851.2 396.4L852.4 397.9L853.6 399.5L854.9 401L856 402.5L857.2 404L858.2 405.5L859.1 406.9L859.9 408.3L860.5 409.4L861.1 410.5L861.6 411.7L862 413L862.4 414.4L862.7 416L862.9 417.9L863 420.2L863.1 422.8L863 425.7L862.9 428.7L862.7 431.7L862.6 434.7L862.4 437.5L862.3 440L862.3 442.3L862.3 444.3L862.4 446.2L862.4 448.1L862.4 450L862.3 452L861.9 454.1L861.2 456.4L860.3 458.9L859.1 461.5L857.6 464.1L856.1 466.8L854.5 469.5L852.9 472.2L851.5 474.7L850.2 477.2L848.9 479.6L847.7 482.1L846.6 484.5L845.4 486.8L844.4 489.1L843.4 491.4L842.4 493.5L841.6 495.5L840.9 497.4L840.2 499.1L839.6 500.7L839.1 502.3L838.7 503.8L838.3 505.3L838 506.7L837.7 508.2L837.5 509.7L837.4 511.2L837.4 512.7L837.4 514.1L837.5 515.6L837.5 517.1L837.6 518.5L837.7 519.9L837.7 521.3L837.8 522.5L837.8 523.7L837.9 524.9L837.9 526.1L838.1 527.2L838.2 528.4L838.5 529.8L838.8 531.1L839.1 532.6L839.4 534L839.8 535.5L840.2 537L840.8 538.5L841.4 540.2L842.2 541.8L843.1 543.6L844.1 545.5L845.3 547.5L846.5 549.6L847.8 551.6L849.2 553.7L850.6 555.7L852 557.6L853.5 559.5L854.9 561.4L856.4 563.2L858 565.1L859.6 566.9L861.3 568.6L863 570.3L864.9 572L866.9 573.7L869 575.4L871.2 577.1L873.6 578.8L875.9 580.4L878.2 581.9L880.5 583.3L882.6 584.4L884.7 585.5L886.8 586.4L889 587.1L891.1 587.8L893.2 588.4L895.1 589L896.9 589.5L898.4 590L899.7 590.4L900.8 590.8L901.7 591.1L902.4 591.3L903 591.5L903.6 591.7L904 591.8L904.4 592M836.7 372.6L836.8 373.3L836.9 374.2L837 375.3L837.1 376.5L837.4 377.9L837.7 379.4L838.2 381L838.8 382.5L839.7 384.2L840.7 385.8L841.8 387.6L843 389.4L844.3 391.2L845.5 393L846.8 394.7L847.9 396.4L849.1 398L850.4 399.6L851.6 401.1L852.8 402.6L854 404.1L855.1 405.5L856 406.9L856.9 408.3L857.6 409.5L858.2 410.7L858.8 411.7L859.2 412.6L859.5 413.7L859.8 414.9L860.1 416.3L860.3 418.1L860.4 420.3L860.5 422.8L860.4 425.6L860.3 428.6L860.1 431.6L860 434.6L859.8 437.4L859.7 440L859.7 442.3L859.7 444.4L859.8 446.3L859.9 448.1L859.8 449.9L859.7 451.6L859.3 453.5L858.8 455.6L857.9 457.9L856.7 460.3L855.4 462.9L853.9 465.5L852.3 468.2L850.7 470.8L849.2 473.5L847.8 476L846.6 478.5L845.4 480.9L844.2 483.3L843.1 485.7L842 488L841 490.3L840 492.5L839.2 494.5L838.4 496.4L837.8 498.2L837.2 499.9L836.6 501.5L836.2 503.1L835.7 504.6L835.4 506.2L835.1 507.8L834.9 509.4L834.8 511.1L834.8 512.7L834.8 514.2L834.9 515.8L835 517.2L835 518.7L835.1 520.1L835.1 521.4L835.2 522.6L835.2 523.8L835.3 525L835.3 526.3L835.5 527.5L835.7 528.9L835.9 530.2L836.2 531.7L836.5 533.1L836.9 534.6L837.3 536.2L837.8 537.8L838.3 539.4L839 541.2L839.8 543L840.8 544.8L841.9 546.8L843 548.9L844.3 551L845.7 553.1L847.1 555.1L848.5 557.2L850 559.2L851.4 561.1L852.9 563L854.4 564.9L856 566.8L857.7 568.6L859.4 570.4L861.2 572.2L863.1 574L865.2 575.7L867.4 577.5L869.7 579.2L872.1 580.9L874.5 582.6L876.8 584.1L879.2 585.5L881.4 586.8L883.6 587.8L885.9 588.8L888.2 589.6L890.4 590.3L892.5 590.9L894.4 591.5L896.1 592L897.6 592.4L898.8 592.9L899.9 593.2L900.8 593.5L901.6 593.8L902.2 594L902.8 594.2L903.2 594.3L903.6 594.4"/></g>
<path class="k" d="M835 374L841 371"/>
<g class="w15"><path class="k" d="M936.2 448.5L936.7 448.9L937.2 449.3L937.5 449.6L937.8 449.9L938.3 450.3L938.8 451L939.5 452.1L940.4 453.5L941.5 455.5L942.8 457.9L944.3 460.8L945.9 463.8L947.5 467L949.2 470.3L950.8 473.4L952.4 476.4L953.9 479.3L955.6 482.3L957.3 485.3L958.9 488.2L960.5 491.1L962 493.7L963.3 496.1L964.3 498.2L965 500L965.6 501.6L966 502.9L966.3 504.1L966.5 505.3L966.7 506.3L966.9 507.4L967 508.5L967.2 509.4L967.3 510.2L967.3 510.8L967.3 511.4L967.3 512L967.3 512.6L967.2 513.2L967.2 513.8L967.2 514.3L967.1 514.8L967.1 515.2L967 515.6L966.9 516L966.8 516.5L966.7 517L966.6 517.6L966.6 518.1L966.5 518.7L966.4 519.2L966.4 519.7L966.3 520.2L966.3 520.7L966.2 521L966.2 521.3M940.6 444.3L940.7 444.5L940.9 444.7L941.4 445L942.1 445.6L942.8 446.4L943.6 447.5L944.6 448.8L945.6 450.5L946.8 452.6L948.1 455.2L949.6 458L951.2 461.1L952.8 464.3L954.5 467.5L956.1 470.7L957.6 473.6L959.2 476.4L960.8 479.4L962.5 482.3L964.2 485.3L965.8 488.1L967.3 490.9L968.6 493.4L969.7 495.8L970.6 497.8L971.3 499.7L971.8 501.4L972.2 502.9L972.4 504.2L972.6 505.4L972.8 506.5L973 507.5L973.1 508.6L973.3 509.6L973.3 510.6L973.3 511.5L973.3 512.2L973.3 512.9L973.2 513.6L973.2 514.2L973.2 514.9L973.1 515.5L973 516.1L972.9 516.7L972.8 517.2L972.7 517.6L972.6 518L972.6 518.4L972.5 518.9L972.5 519.4L972.4 519.9L972.3 520.4L972.3 520.8L972.3 521.3L972.2 521.6L972.2 521.9"/><path class="t" d="M939.3 445.5L939.6 445.8L939.9 446L940.3 446.3L940.9 446.8L941.5 447.5L942.3 448.5L943.1 449.7L944.1 451.3L945.3 453.4L946.6 455.9L948.1 458.8L949.7 461.9L951.3 465.1L953 468.3L954.6 471.5L956.1 474.4L957.7 477.2L959.3 480.2L961 483.2L962.7 486.1L964.3 489L965.8 491.7L967.1 494.2L968.2 496.5L969 498.5L969.7 500.2L970.2 501.8L970.5 503.2L970.8 504.5L970.9 505.7L971.1 506.7L971.3 507.8L971.5 508.8L971.6 509.8L971.6 510.7L971.6 511.4L971.6 512.2L971.6 512.8L971.5 513.5L971.5 514.1L971.5 514.7L971.4 515.3L971.3 515.9L971.2 516.4L971.1 516.9L971 517.3L971 517.7L970.9 518.2L970.8 518.7L970.8 519.2L970.7 519.7L970.7 520.2L970.6 520.7L970.6 521.1L970.5 521.5L970.5 521.7M937.5 447.3L937.8 447.7L938.2 448L938.6 448.3L939 448.7L939.5 449.2L940.2 450L940.9 451.1L941.9 452.7L943 454.7L944.3 457.2L945.8 460L947.4 463.1L949 466.3L950.7 469.5L952.3 472.7L953.9 475.6L955.4 478.5L957.1 481.5L958.8 484.4L960.4 487.4L962 490.2L963.5 492.9L964.8 495.4L965.8 497.5L966.6 499.4L967.2 501.1L967.7 502.5L968 503.8L968.2 505L968.4 506.1L968.5 507.1L968.7 508.2L968.9 509.2L969 510L969 510.8L969 511.4L969 512.1L969 512.7L968.9 513.3L968.9 513.9L968.9 514.5L968.8 515L968.7 515.5L968.7 515.9L968.6 516.4L968.5 516.8L968.4 517.3L968.3 517.8L968.2 518.3L968.2 518.9L968.1 519.4L968.1 519.9L968 520.4L968 520.8L967.9 521.2L967.9 521.5"/></g>
<g class="w15"><path class="k" d="M964.4 519.4L915.6 572.6M968.4 523L919.6 576.2"/><path class="t" d="M967.3 522L918.5 575.2M965.5 520.4L916.7 573.6"/></g>
<path class="k" d="M915.6 572.4L916.8 577.2L922 578.4L922.4 582.4L909 592.4M919.6 575.6L920 580L907 590M918 578L906 588"/>
<g class="w15"><path class="k" d="M859.3 432.3C859.1 432.5 858.7 433.1 858.3 433.4C858 433.8 857.6 434 857.1 434.2C856.7 434.4 856.2 434.6 855.7 434.7C855.2 434.7 854.7 434.7 854.2 434.6C853.7 434.6 853.2 434.4 852.7 434.2C852.3 434 851.8 433.7 851.4 433.4C850.9 433 850.5 432.6 850.2 432.2C849.9 431.8 849.6 431.3 849.3 430.8C849.1 430.3 848.9 429.7 848.8 429.2C848.7 428.6 848.6 428.1 848.6 427.5C848.7 427 848.7 426.4 848.9 425.9C849 425.4 849.2 425 849.5 424.5C849.8 424.1 850.1 423.7 850.5 423.4C850.8 423 851.2 422.8 851.7 422.6C852.1 422.4 852.6 422.2 853.1 422.1C853.6 422.1 854.3 422.2 854.6 422.2"/><ellipse class="k" cx="854.4" cy="428.4" rx="2.2" ry="3.6" transform="rotate(-25 854.4 428.4)"/><ellipse class="t" cx="854.9" cy="428.7" rx="3.5" ry="5" transform="rotate(-25 854.9 428.7)"/></g>
<g class="w15"><path class="k" d="M842.9 487.3C842.7 487.5 842.3 488.1 841.9 488.4C841.6 488.8 841.2 489 840.7 489.2C840.3 489.4 839.8 489.6 839.3 489.7C838.8 489.7 838.3 489.7 837.8 489.6C837.3 489.6 836.8 489.4 836.3 489.2C835.9 489 835.4 488.7 835 488.4C834.5 488 834.1 487.6 833.8 487.2C833.5 486.8 833.2 486.3 832.9 485.8C832.7 485.3 832.5 484.7 832.4 484.2C832.3 483.6 832.2 483.1 832.2 482.5C832.3 482 832.3 481.4 832.5 480.9C832.6 480.4 832.8 480 833.1 479.5C833.4 479.1 833.7 478.7 834.1 478.4C834.4 478 834.8 477.8 835.3 477.6C835.7 477.4 836.2 477.2 836.7 477.1C837.2 477.1 837.9 477.2 838.2 477.2"/><ellipse class="k" cx="838" cy="483.4" rx="2.2" ry="3.6" transform="rotate(-25 838 483.4)"/><ellipse class="t" cx="838.5" cy="483.7" rx="3.5" ry="5" transform="rotate(-25 838.5 483.7)"/></g>
<g class="w15"><path class="k" d="M856 569.3C856 569.6 855.8 570.4 855.5 570.8C855.3 571.3 855 571.7 854.7 572.1C854.4 572.4 854 572.8 853.6 573C853.1 573.3 852.7 573.4 852.2 573.6C851.7 573.7 851.2 573.7 850.7 573.7C850.2 573.7 849.7 573.6 849.2 573.4C848.7 573.2 848.2 573 847.8 572.7C847.4 572.4 846.9 572 846.6 571.6C846.2 571.2 845.9 570.8 845.6 570.3C845.3 569.8 845.1 569.2 844.9 568.7C844.8 568.2 844.7 567.6 844.6 567.1C844.6 566.5 844.7 566 844.8 565.5C844.9 564.9 845 564.4 845.3 564C845.5 563.5 845.8 563.1 846.1 562.7C846.4 562.4 846.8 562 847.2 561.8C847.7 561.5 848.4 561.3 848.6 561.2"/><ellipse class="k" cx="850.4" cy="567.4" rx="2.2" ry="3.6" transform="rotate(-25 850.4 567.4)"/><ellipse class="t" cx="850.9" cy="567.7" rx="3.5" ry="5" transform="rotate(-25 850.9 567.7)"/></g>
<g class="w15"><path class="k" d="M905.3 591.2C905.6 591.4 906.3 591.8 906.6 592.2C907 592.6 907.4 593 907.7 593.5C908 593.9 908.3 594.4 908.5 595C908.7 595.5 908.8 596 908.9 596.6C909 597.1 909 597.7 908.9 598.2C908.9 598.7 908.7 599.3 908.5 599.7C908.4 600.2 908.1 600.7 907.8 601.1C907.5 601.5 907.2 601.8 906.8 602.1C906.4 602.4 905.9 602.7 905.5 602.8C905 603 904.5 603.1 904 603.1C903.5 603.1 903 603.1 902.5 602.9C902 602.8 901.5 602.6 901.1 602.4C900.6 602.1 900.1 601.8 899.8 601.4C899.4 601 899 600.6 898.7 600.1C898.4 599.7 898.1 599.2 897.9 598.6C897.7 598.1 897.6 597.3 897.5 597"/><ellipse class="k" cx="903.2" cy="596.8" rx="2.2" ry="3.6" transform="rotate(-25 903.2 596.8)"/><ellipse class="t" cx="903.7" cy="597.1" rx="3.5" ry="5" transform="rotate(-25 903.7 597.1)"/></g>
<g class="w15"><path class="k" d="M968.1 525.3C968.3 525.2 968.8 524.6 969.2 524.4C969.7 524.1 970.1 524 970.6 523.8C971.1 523.7 971.6 523.7 972.1 523.7C972.6 523.7 973.1 523.8 973.6 524C974.1 524.2 974.6 524.4 975 524.7C975.4 525 975.9 525.4 976.2 525.8C976.6 526.2 976.9 526.6 977.2 527.1C977.5 527.6 977.7 528.2 977.9 528.7C978 529.2 978.1 529.8 978.2 530.3C978.2 530.9 978.1 531.4 978 531.9C977.9 532.5 977.8 533 977.5 533.4C977.3 533.9 977 534.3 976.7 534.7C976.4 535 976 535.4 975.6 535.6C975.1 535.9 974.7 536 974.2 536.2C973.7 536.3 973.2 536.3 972.7 536.3C972.2 536.3 971.5 536 971.2 536"/><ellipse class="k" cx="972.4" cy="530" rx="2.2" ry="3.6" transform="rotate(-25 972.4 530)"/><ellipse class="t" cx="972.9" cy="530.3" rx="3.5" ry="5" transform="rotate(-25 972.9 530.3)"/></g>
<g class="w15"><path class="k" d="M935.4 446.4C935.1 445.2 933.8 441.7 933.6 439C933.4 436.3 933.7 432.3 934.4 430.4C935.1 428.5 936.1 427.2 938 427.6C939.9 428 944.2 431.1 946 433C947.8 434.9 948.4 437.1 948.6 439C948.8 440.9 948 443 947 444.4C946 445.8 943.2 447.1 942.4 447.6"/><ellipse class="k" cx="940.8" cy="438.4" rx="2.6" ry="4.2" transform="rotate(-25 940.8 438.4)"/><ellipse class="t" cx="941.2" cy="438.6" rx="4" ry="5.8" transform="rotate(-25 941.2 438.6)"/></g></g>
<!-- 26_gear.svg -->
<g><path class="g" d="M785.2 411.7L782.6 410.6L781.4 413L778.8 411.5L777.4 413.6L774.8 411.6L773.1 413.3L770.7 411L768.7 412.2L766.5 409.6L764.2 410.4L762.2 407.5L759.8 407.8L758.1 404.7L755.5 404.6L754 401.3L751.4 400.7L750.3 397.3L747.6 396.2L746.8 392.8L744.2 391.3L743.6 387.9L741.1 386.1L740.9 382.7L738.5 380.5L738.7 377.3L736.4 374.7L737 371.8L734.9 368.9L735.8 366.3L733.9 363.2L735.2 360.8L733.6 357.5L735.1 355.5L733.9 352.1L735.7 350.5L734.7 347.1L736.8 345.9L736.2 342.5L738.4 341.8L738.2 338.5L740.6 338.2L740.7 335L743.3 335.2L743.8 332.2L746.4 332.9L747.2 330.2L749.8 331.3L751 328.9L753.6 330.4L755 328.4L757.6 330.3L759.3 328.6L761.7 331L763.7 329.7L765.9 332.3L768.2 331.5L770.2 334.4L772.6 334.1L774.3 337.2L776.9 337.4L778.4 340.7L781 341.2L782.1 344.6L784.8 345.7L785.6 349.1L788.2 350.6L788.8 354L791.3 355.9L791.5 359.2L793.9 361.4L793.7 364.6L796 367.2L795.4 370.1L797.5 373L796.6 375.7L798.5 378.8L797.2 381.1L798.8 384.4L797.3 386.4L798.5 389.8L796.7 391.4L797.7 394.8L795.6 396L796.2 399.4L794 400.1L794.2 403.5L791.8 403.7L791.7 406.9L789.1 406.7L788.6 409.7L786 409Z"/>
<path class="g" d="M783.6 408.3L781.4 409.1L779.2 409.7L776.8 409.9L774.3 409.9L771.8 409.5L769.2 408.9L766.7 408L764.1 406.8L761.5 405.3L759 403.5L756.5 401.6L754.1 399.3L751.7 396.9L749.5 394.3L747.5 391.5L745.5 388.5L743.7 385.4L742.1 382.2L740.7 378.9L739.5 375.5L738.5 372.1L737.6 368.7L737 365.4L736.7 362L736.5 358.7L736.6 355.6L736.9 352.5L737.4 349.6L738.1 346.8L739.1 344.3L740.3 341.9L741.6 339.7L743.2 337.8L744.9 336.2L746.8 334.8L748.8 333.6L751 332.8L753.2 332.3L755.6 332L758.1 332.1L760.6 332.4L763.2 333L765.7 334L768.3 335.2L770.9 336.6L773.4 338.4L775.9 340.4L778.3 342.6L780.7 345L782.9 347.7L784.9 350.5L786.9 353.4L788.7 356.5L790.3 359.7L791.7 363L792.9 366.4L793.9 369.8L794.8 373.2L795.4 376.6L795.7 379.9L795.9 383.2L795.8 386.4L795.5 389.4L795 392.3L794.3 395.1L793.3 397.7L792.1 400L790.8 402.2L789.2 404.1L787.5 405.8L785.6 407.2Z"/>
<path class="g" d="M747.2 330.2L764.7 320.2M751 328.9L768.5 318.9M755.1 328.3L772.6 318.3M759.4 328.6L776.9 318.6M763.8 329.6L781.3 319.6M768.3 331.5L785.8 321.5M772.8 334L790.3 324M777.1 337.3L794.6 327.3M781.2 341.1L798.7 331.1M785 345.6L802.5 335.6M788.5 350.5L806 340.5M791.6 355.7L809.1 345.7M794.2 361.3L811.7 351.3M796.2 367.1L813.7 357.1M797.8 372.9L815.3 362.9M798.7 378.7L816.2 368.7M799 384.3L816.5 374.3M798.7 389.7L816.2 379.7M797.8 394.7L815.3 384.7M796.3 399.3L813.8 389.3M794.3 403.4L811.8 393.4M791.7 406.9L809.2 396.9M788.7 409.7L806.2 399.7"/>
<path class="g" d="M764.7 320.2L767.1 320.9L768.5 318.9L770.9 320L772.6 318.3L775 319.9L776.9 318.6L779.2 320.5L781.3 319.6L783.4 321.9L785.8 321.5L787.7 324.1L790.3 324L791.9 326.9L794.6 327.3L796 330.3L798.7 331.1L799.8 334.4L802.5 335.6L803.3 338.9L806 340.5L806.5 343.8L809.1 345.7L809.2 349.1L811.7 351.3L811.5 354.5L813.7 357.1L813.2 360.1L815.3 362.9L814.4 365.7L816.2 368.7L815.1 371.2L816.5 374.3L815.1 376.6L816.2 379.7L814.5 381.6L815.3 384.7L813.4 386.2L813.8 389.3L811.7 390.4L811.8 393.4L809.5 394.1L809.2 396.9L806.9 397.1L806.2 399.7"/>
<ellipse class="g" cx="768.6" cy="369.4" rx="3.4" ry="5" transform="rotate(-20 768.6 369.4)"/>
<path class="g" d="M767 366.2C767.2 366.6 767.9 368 768 369C768.1 370.1 767.8 372 767.8 372.6"/>
<path class="g" d="M752.2 334C752.8 333.1 754.2 332.3 756 332.2C757.8 332.1 761.2 332.8 763.2 333.4C765.2 334 767.2 334.5 768 335.8C768.8 337.1 768.3 339.3 767.8 341.2C767.3 343.1 766.1 345.8 765 347.2C763.9 348.6 762.7 349.4 761.4 349.6C760.1 349.8 758.6 349.4 757.4 348.2C756.2 347 755.1 344.2 754.2 342.4C753.3 340.6 752.5 339 752.2 337.6C751.8 336.2 751.5 334.9 752.2 334Z"/>
<path class="g" d="M755.4 333.4C755.5 334.5 755.3 337.7 756 340C756.7 342.3 759 346 759.6 347.2M768 335.8C767.6 336.3 767 338.1 765.6 338.8C764.2 339.5 761.2 339.8 759.6 340C758 340.2 756.6 340 756 340"/>
<path class="g" d="M746.6 342.4C747.3 341.9 748 341.8 748.8 343C749.6 344.2 750.8 346.9 751.4 349.6C752.1 352.3 752.6 356.5 752.6 359.2C752.6 361.9 752.1 364.4 751.4 365.8C750.8 367.2 749.7 368.1 748.8 367.4C747.9 366.7 746.9 364.2 746.2 361.6C745.5 359 744.8 354.6 744.6 352C744.4 349.4 744.6 347.6 745 346C745.3 344.4 746 342.9 746.6 342.4Z"/>
<path class="g" d="M747.8 344.8C748.1 346.4 749 351 749.4 354.4C749.8 357.8 749.9 363.4 750 365.2"/>
<path class="g" d="M751.4 376.2C751.6 375.2 752.8 374.8 754.2 375.4C755.6 376 757.6 377.5 759.6 379.6C761.6 381.7 764.7 385.6 766.2 388C767.7 390.4 768.3 392.6 768.6 394C768.9 395.4 768.7 396.1 768 396.4C767.3 396.7 766 397 764.4 395.8C762.8 394.6 760.3 391.6 758.4 389.2C756.5 386.8 754.2 383.6 753 381.4C751.8 379.2 751.2 377.2 751.4 376.2Z"/>
<path class="g" d="M756 378.4C756.9 379.5 759.7 382.6 761.4 385C763.1 387.4 765.4 391.5 766.2 392.8"/>
<path class="g" d="M774 392.8C774.6 391.8 776 390.8 777.6 390.6C779.2 390.4 781.4 390.4 783.6 391.6C785.8 392.8 789.1 396 790.8 397.6C792.5 399.2 794 400.2 793.8 401.2C793.6 402.2 791.5 403.1 789.6 403.6C787.7 404.1 784.6 404.6 782.4 404.2C780.2 403.8 777.8 402.5 776.4 401.2C775 399.9 774.2 397.8 773.8 396.4C773.4 395 773.4 393.8 774 392.8Z"/>
<path class="g" d="M777.6 392.8C778.2 393.6 779.4 396.2 781.2 397.6C783 399 786.4 400.5 788.4 401.2C790.4 401.9 792.4 401.7 793.2 401.8M779.4 391.6C780.3 392.4 782.7 395 784.8 396.4C786.9 397.8 790.8 399.6 792 400.2"/>
<path class="g" d="M796.8 372.4C795.8 372.1 792.5 370.4 790.8 370.6C789.1 370.8 787.6 372.1 786.6 373.6C785.6 375.1 784.7 377.4 784.8 379.6C784.9 381.8 785.8 384.6 787.2 386.8C788.6 389 791.4 391.7 793.2 392.8C795 393.9 797 393.3 797.8 393.4M792 371.2C791.6 372.2 789.6 375 789.6 377.2C789.6 379.4 790.6 382.3 792 384.4C793.4 386.5 797 388.9 798 389.8"/>
<path class="g" d="M774.6 343.6C774.4 344.6 773.3 347.4 773.4 349.6C773.5 351.8 774.1 354.8 775.2 356.8C776.3 358.8 778 360.8 780 361.6C782 362.4 785.2 361.9 787.2 361.6C789.2 361.3 791.2 360.1 792 359.8M777.6 346C777.6 347 777 350.1 777.6 352C778.2 353.9 779.6 356.2 781.2 357.4C782.8 358.6 786.2 358.9 787.2 359.2"/></g>
<!-- 27_tpulley.svg -->
<g class="w11"><path class="k" d="M201.5 597.2L223 591.6L225.4 591.1L227.8 590.8L230.3 590.9L232.8 591.1L235.3 591.7L237.8 592.4L240.3 593.5L242.6 594.7L245 596.2L247.2 598L249.4 599.9L251.5 602L253.4 604.4L255.2 606.9L256.9 609.5L258.4 612.3L259.8 615.2L261 618.3L262 621.4L262.8 624.6L263.5 627.8L263.9 631.1L264.2 634.3L264.3 637.6L264.1 640.8L263.8 644L263.3 647.1L262.6 650.1L261.7 653L260.6 655.8L259.4 658.4L257.9 660.9L256.4 663.2L254.6 665.3L252.8 667.2L250.8 668.9L248.7 670.4L246.5 671.6L244.2 672.6L241.9 673.4L220.4 679"/><ellipse class="k" cx="210.9" cy="638.1" rx="42" ry="31.4" transform="rotate(79 210.9 638.1)"/>
<ellipse class="k" cx="211.2" cy="638.1" rx="40" ry="29.6" transform="rotate(79 211.2 638.1)"/>
<path class="t" d="M184.9 624.5L186.9 617.8L190 611.9L194 607.2L198.7 603.7L204 601.6L209.6 601.1L215.3 602.1L220.8 604.6L226 608.6L230.6 613.7L234.4 619.9L237.4 626.8L239.2 634.2L239.9 641.8L239.5 649.2L237.9 656.2L235.3 662.5L231.7 667.7L227.3 671.8L222.2 674.4L216.7 675.6L211 675.2L205.4 673.4L200 670"/>
<ellipse class="k" cx="198.2" cy="632.4" rx="6" ry="5" transform="rotate(75 198.2 632.4)"/>
<ellipse class="k" cx="199.4" cy="634.6" rx="13.5" ry="10" transform="rotate(75 199.4 634.6)"/>
<path class="k" d="M214.3 641.3L213.6 644.1L212.5 646.7L211 648.8L209.2 650.5L207.1 651.7L204.9 652.3L202.5 652.4L200.1 651.9L197.7 650.8L195.5 649.2L193.5 647.1L191.8 644.7L190.4 641.9L189.5 638.9L188.9 635.9L188.9 632.8L189.3 629.9L190.1 627.2L191.3 624.8L193 622.8L194.9 621.3L197 620.3L199.4 619.9L201.8 620.1"/>
<ellipse class="k" cx="201.2" cy="635.9" rx="21.5" ry="15" transform="rotate(75 201.2 635.9)"/>
<path class="k" d="M206.4 612.5L209.1 614L211.7 615.9L214.1 618.3L216.2 621.1L218.1 624.3L219.6 627.7L220.7 631.2L221.4 634.9L221.7 638.6L221.5 642.2L220.9 645.6L219.9 648.8L218.6 651.7L216.8 654.2L214.8 656.3L212.4 657.9L209.9 658.9L207.2 659.4L204.4 659.4L201.6 658.8L198.8 657.6L196.1 656L193.6 653.8L191.3 651.2"/>
<path class="t" d="M196.2 622.4L200.3 616.3M203 650.4L210.7 653.5"/>
<path class="t" d="M201.9 607.5C203.7 608.2 210 609.5 212.9 611.9C215.8 614.3 217.9 618.3 219.5 621.8C221.2 625.3 222.1 629.3 222.8 632.8C223.5 636.3 223.4 641.2 223.5 642.9"/>
<path class="t" d="M202.9 606.8C204.8 607.5 211.4 608.8 214.5 611.3C217.6 613.7 219.8 617.8 221.5 621.4C223.2 624.9 224.2 629 224.8 632.6C225.4 636.1 225 641 225.1 642.7"/>
<path class="t" d="M203.9 606C205.9 606.8 212.8 608.2 216.1 610.7C219.3 613.2 221.7 617.3 223.5 620.9C225.2 624.5 226.2 628.8 226.8 632.4C227.3 636 226.7 640.8 226.7 642.5"/>
<path class="t" d="M204.9 605.3C207 606.1 214.2 607.5 217.7 610.1C221.1 612.6 223.6 616.8 225.4 620.5C227.3 624.2 228.3 628.5 228.7 632.1C229.2 635.8 228.4 640.6 228.3 642.3"/>
<path class="t" d="M205.9 604.5C208.1 605.3 215.6 606.8 219.2 609.4C222.8 612 225.5 616.3 227.4 620C229.3 623.8 230.3 628.3 230.7 631.9C231.1 635.6 230.1 640.4 230 642"/>
<path class="t" d="M206.9 603.8C209.2 604.6 217.1 606.2 220.8 608.8C224.6 611.5 227.4 615.8 229.4 619.6C231.4 623.4 232.3 628 232.7 631.7C233.1 635.4 231.8 640.1 231.6 641.8"/>
<path class="k" d="M197.5 607L207.4 603.7L213.5 603.7L208.5 606.4M201.9 604.8L210.7 602.6"/>
<path class="k" d="M223.9 643.3L230.5 642.2L230.7 637.2M224.8 644.9L230 643.6"/>
<path class="k" d="M232.7 628.6L235.8 628L239.5 649.1L236.4 650Z"/>
<path class="t" d="M222.8 646C222.6 646.9 222.6 649.7 221.7 651.5C220.8 653.3 219 655.4 217.3 657C215.7 658.7 214 660.2 211.8 661.4C209.6 662.6 205.4 664 204.1 664.5M228.3 644.9C228.1 646.2 228.3 650 227.2 652.6C226.1 655.2 223.9 658.1 221.7 660.3C219.5 662.5 216.6 664.5 214 665.8C211.4 667.1 207.6 667.6 206.3 668M237.1 650.4C236.7 651.9 236.6 656.5 234.9 659.2C233.3 662 230.1 664.9 227.2 666.9C224.3 668.9 220.6 670.6 217.3 671.3C214 672 209.1 671.3 207.4 671.3"/>
<path class="k" d="M217.3 657L220.6 655.9L227.2 660.9L231.6 662L236 659.2M218.4 658.7L222.8 662L227.2 660.9M216.2 659.2L220.1 662.5L225 663.6"/>
<path class="k" d="M199.5 660.3L201.7 662L201.9 666.9L199.7 668ZM201.9 664.2L216.2 662"/>
<ellipse class="k" cx="192.6" cy="657" rx="3" ry="4.6" transform="rotate(-15 192.6 657)"/>
<path class="k" d="M186.5 610.8L189.3 609.9L190 612.1L188.2 613.2ZM190 610.8L198.6 605.9"/>
<path class="t" d="M184.9 646L187.6 644.9L188.2 648.8L186 650.4M185.4 651.5L188.2 655.9"/></g>
<!-- 28_bolts_r.svg -->
<g><g class="c3"><path class="k" d="M954.5 206.5L944.3 210.8L943.7 211L943 211.2L942.3 211.2L941.6 211.2L940.9 211.1L940.1 210.9L939.4 210.7L938.6 210.3L937.8 209.9L937.1 209.4L936.4 208.8L935.6 208.2L934.9 207.5L934.2 206.8L933.6 206L933 205.1L932.4 204.2L931.8 203.3L931.3 202.3L930.9 201.3L930.5 200.3L930.1 199.2L929.8 198.2L929.6 197.1L929.4 196.1L929.3 195.1L929.2 194.1L929.2 193.1L929.2 192.1L929.4 191.2L929.5 190.3L929.8 189.5L930 188.7L930.4 188L930.8 187.3L931.2 186.7L931.7 186.2L932.2 185.7L932.8 185.3L933.4 185L943.5 180.7"/><ellipse class="k" cx="949" cy="193.6" rx="8.7" ry="14" transform="rotate(-23 949 193.6)"/><ellipse class="k" cx="949" cy="193.6" rx="5.4" ry="8.7" transform="rotate(-23 949 193.6)"/><path class="t" d="M953 191.9L953.4 198.3L949.4 200L945 195.3L944.6 188.9L948.6 187.2Z"/><path class="k" d="M941.2 203.4L916.4 214M936.5 192.4L911.7 202.9"/><path class="k" d="M916.4 214L915.2 214.1L914 213.7L912.7 212.8L911.6 211.5L910.7 209.9L910.1 208.1L910 206.3L910.2 204.8L910.8 203.6L911.7 202.9"/><path class="t" d="M939.2 204.3L937.7 204.4L936.1 203.7L934.7 202.2L933.5 200.2L932.9 198L932.8 195.9L933.4 194.2L934.5 193.2M935.8 205.7L934.3 205.9L932.7 205.1L931.3 203.6L930.1 201.6L929.5 199.4L929.4 197.3L930 195.6L931.1 194.7M932.4 207.2L930.9 207.3L929.3 206.6L927.9 205.1L926.7 203.1L926.1 200.8L926 198.7L926.6 197.1L927.7 196.1M929 208.6L927.5 208.7L925.9 208L924.5 206.5L923.3 204.5L922.7 202.3L922.6 200.2L923.2 198.5L924.3 197.6M925.6 210.1L924.1 210.2L922.5 209.4L921 208L919.9 206L919.3 203.7L919.2 201.6L919.8 200L920.9 199M922.2 211.5L920.7 211.6L919.1 210.9L917.6 209.4L916.5 207.4L915.8 205.2L915.8 203.1L916.4 201.4L917.5 200.5M918.7 213L917.3 213.1L915.7 212.3L914.2 210.8L913.1 208.8L912.4 206.6L912.4 204.5L913 202.9L914.1 201.9"/></g>
<g class="c3"><path class="k" d="M976.7 595.5L969.1 599.3L968.7 599.5L968.3 599.6L967.8 599.7L967.3 599.7L966.8 599.7L966.3 599.6L965.8 599.5L965.2 599.3L964.7 599L964.2 598.7L963.6 598.4L963.1 598L962.6 597.6L962.1 597.1L961.6 596.6L961.2 596L960.7 595.4L960.3 594.8L959.9 594.2L959.6 593.5L959.3 592.9L959 592.2L958.7 591.5L958.5 590.8L958.3 590.1L958.2 589.4L958.1 588.7L958 588L958 587.4L958.1 586.8L958.1 586.2L958.3 585.6L958.4 585L958.6 584.5L958.8 584.1L959.1 583.6L959.4 583.3L959.7 582.9L960.1 582.6L960.5 582.4L968.1 578.5"/><ellipse class="k" cx="972.4" cy="587" rx="5.9" ry="9.5" transform="rotate(-27 972.4 587)"/><ellipse class="k" cx="972.4" cy="587" rx="3.7" ry="5.9" transform="rotate(-27 972.4 587)"/><path class="t" d="M975 585.7L975.6 590L973 591.3L969.8 588.3L969.2 584L971.8 582.7Z"/><path class="k" d="M966.5 594.2L946.9 604.2M963.1 587.5L943.5 597.5"/><path class="k" d="M946.9 604.2L946.2 604.3L945.4 604.2L944.6 603.6L943.8 602.9L943.2 601.9L942.8 600.8L942.6 599.7L942.7 598.7L943 598L943.5 597.5"/><path class="t" d="M965.1 594.9L964.2 595.1L963.2 594.7L962.2 593.8L961.4 592.6L960.9 591.2L960.8 589.9L961.1 588.9L961.7 588.2M962.8 596.1L961.9 596.3L960.8 595.9L959.8 595L959 593.8L958.5 592.4L958.4 591.1L958.7 590.1L959.3 589.4M960.4 597.3L959.5 597.5L958.5 597.1L957.5 596.2L956.7 595L956.2 593.7L956.1 592.3L956.3 591.3L957 590.6M958 598.5L957.1 598.7L956.1 598.3L955.1 597.4L954.3 596.2L953.8 594.9L953.7 593.6L954 592.5L954.6 591.8M955.7 599.7L954.8 599.9L953.7 599.5L952.8 598.6L952 597.4L951.5 596.1L951.3 594.8L951.6 593.7L952.3 593.1M953.3 600.9L952.4 601.1L951.4 600.7L950.4 599.8L949.6 598.6L949.1 597.3L949 596L949.3 594.9L949.9 594.3M950.9 602.1L950 602.3L949 601.9L948 601L947.2 599.8L946.7 598.5L946.6 597.2L946.9 596.1L947.5 595.5M948.6 603.3L947.7 603.5L946.7 603.1L945.7 602.2L944.9 601L944.4 599.7L944.3 598.4L944.5 597.3L945.2 596.7"/></g></g>
<!-- 29_bolts_l.svg -->
<g><path class="k" d="M612.8 590.3L612.2 594.4L608.6 594.3L605.7 590L606.4 585.9L609.9 586Z"/><path class="k" d="M609.9 586L613.4 584.2"/><path class="k" d="M612.8 590.3L616.3 588.4"/><path class="k" d="M612.2 594.4L615.7 592.5"/><path class="k" d="M608.6 594.3L612.2 592.4"/><path class="k" d="M613.4 584.2L616.3 588.4L615.7 592.5L612.2 592.4"/><ellipse class="k" cx="612.8" cy="588.3" rx="2.9" ry="5.2" transform="rotate(-28 612.8 588.3)"/><path class="k" d="M611.7 583L612 582.8L612.4 582.8L612.8 582.8L613.3 582.9L613.7 583.1L614.2 583.4L614.6 583.7L615.1 584.1L615.5 584.6L615.9 585.1L616.3 585.6L616.6 586.2L616.9 586.8L617.2 587.5L617.4 588.1L617.5 588.7L617.6 589.3L617.6 589.9L617.6 590.4L617.5 590.9L617.3 591.3L617.1 591.7L616.9 592L616.6 592.2"/><path class="k" d="M614.1 590.7L646.7 573.3M611.5 585.9L644.2 568.5"/><path class="k" d="M644.2 568.5L644.7 568.4L645.2 568.6L645.8 568.9L646.3 569.5L646.8 570.2L647.1 571L647.3 571.7L647.3 572.4L647.1 573L646.7 573.3"/><path class="t" d="M613.8 584.7L614.4 584.6L615.1 584.9L615.8 585.5L616.4 586.4L616.8 587.3L616.9 588.3L616.7 589L616.3 589.5M616 583.5L616.6 583.4L617.3 583.7L618 584.3L618.6 585.2L619 586.1L619.1 587.1L619 587.8L618.6 588.3M618.3 582.3L618.9 582.2L619.6 582.5L620.3 583.1L620.9 584L621.3 584.9L621.4 585.9L621.2 586.6L620.8 587.1M620.5 581.1L621.1 581L621.9 581.3L622.6 581.9L623.1 582.8L623.5 583.7L623.6 584.7L623.5 585.4L623.1 585.9M622.8 579.9L623.4 579.8L624.1 580.1L624.8 580.7L625.4 581.6L625.8 582.5L625.9 583.5L625.7 584.2L625.3 584.7M625 578.7L625.6 578.6L626.4 578.9L627.1 579.5L627.6 580.4L628 581.3L628.1 582.3L628 583L627.6 583.5M627.3 577.5L627.9 577.4L628.6 577.7L629.3 578.3L629.9 579.2L630.3 580.1L630.4 581.1L630.2 581.8L629.8 582.3M629.5 576.3L630.2 576.2L630.9 576.5L631.6 577.1L632.2 578L632.5 579L632.7 579.9L632.5 580.6L632.1 581.1M631.8 575.1L632.4 575L633.1 575.3L633.8 575.9L634.4 576.8L634.8 577.8L634.9 578.7L634.8 579.4L634.3 579.9M634.1 573.9L634.7 573.8L635.4 574.1L636.1 574.7L636.7 575.6L637 576.6L637.2 577.5L637 578.2L636.6 578.7M636.3 572.7L636.9 572.6L637.6 572.9L638.3 573.5L638.9 574.4L639.3 575.4L639.4 576.3L639.3 577L638.8 577.5M638.6 571.5L639.2 571.4L639.9 571.7L640.6 572.3L641.2 573.2L641.5 574.2L641.7 575.1L641.5 575.8L641.1 576.3M640.8 570.3L641.4 570.2L642.1 570.5L642.8 571.1L643.4 572L643.8 573L643.9 573.9L643.8 574.6L643.3 575.1M643.1 569.1L643.7 569L644.4 569.3L645.1 569.9L645.7 570.8L646.1 571.8L646.2 572.7L646 573.4L645.6 573.9"/>
<g class="c2"><path class="k" d="M215.9 899.4L214.6 906.9L208.2 906.5L203 898.6L204.3 891.1L210.7 891.5Z"/><path class="k" d="M210.7 891.5L216.9 888.3"/><path class="k" d="M215.9 899.4L222.1 896.2"/><path class="k" d="M214.6 906.9L220.8 903.7"/><path class="k" d="M208.2 906.5L214.4 903.3"/><path class="k" d="M216.9 888.3L222.1 896.2L220.8 903.7L214.4 903.3"/><ellipse class="k" cx="215.7" cy="895.8" rx="6.3" ry="11.5" transform="rotate(-27 215.7 895.8)"/><path class="k" d="M211.8 884.9L212.6 884.6L213.4 884.5L214.4 884.6L215.3 884.8L216.3 885.3L217.3 885.9L218.3 886.6L219.3 887.5L220.2 888.6L221.1 889.7L221.9 891L222.7 892.3L223.3 893.6L223.8 895L224.2 896.4L224.5 897.8L224.7 899.1L224.7 900.4L224.6 901.5L224.4 902.6L224 903.5L223.5 904.3L222.9 904.9L222.2 905.4"/><path class="k" d="M218.3 901L252.2 883.7M213.1 890.7L246.9 873.5"/><path class="k" d="M246.9 873.5L248 873.3L249.1 873.6L250.3 874.4L251.5 875.6L252.4 877.1L253.1 878.8L253.4 880.4L253.3 881.9L252.9 883L252.2 883.7"/><path class="t" d="M217.1 888.7L218.4 888.5L219.9 889.1L221.3 890.5L222.5 892.3L223.3 894.4L223.5 896.4L223.2 898L222.3 898.9M221 886.6L222.3 886.5L223.8 887.1L225.3 888.5L226.5 890.3L227.3 892.4L227.5 894.4L227.2 895.9L226.3 896.9M225 884.6L226.3 884.4L227.8 885.1L229.3 886.4L230.5 888.3L231.3 890.4L231.5 892.3L231.1 893.9L230.2 894.9M229 882.6L230.3 882.4L231.8 883.1L233.3 884.4L234.5 886.2L235.3 888.3L235.5 890.3L235.1 891.9L234.2 892.8M233 880.6L234.3 880.4L235.8 881L237.3 882.4L238.5 884.2L239.3 886.3L239.5 888.3L239.1 889.9L238.2 890.8M237 878.5L238.3 878.4L239.8 879L241.2 880.3L242.5 882.2L243.2 884.3L243.5 886.2L243.1 887.8L242.2 888.8M241 876.5L242.3 876.3L243.8 877L245.2 878.3L246.4 880.2L247.2 882.2L247.4 884.2L247.1 885.8L246.2 886.7M244.9 874.5L246.2 874.3L247.7 874.9L249.2 876.3L250.4 878.1L251.2 880.2L251.4 882.2L251.1 883.8L250.2 884.7"/></g>
<g class="c4"><ellipse class="k" cx="261.8" cy="867.6" rx="9" ry="12.5" transform="rotate(-22 261.8 867.6)"/><path class="k" d="M258.2 855.7L259.3 855.2L260.5 855L261.7 854.9L262.9 855L264.1 855.4L265.4 855.9L266.6 856.6L267.8 857.5L268.9 858.6L269.9 859.8L270.7 861.2L271.5 862.6L272.2 864.1L272.6 865.6L273 867.2L273.2 868.8L273.2 870.3L273 871.8L272.7 873.2L272.2 874.5L271.6 875.7L270.9 876.7L270 877.5L269 878.2"/><ellipse class="k" cx="261" cy="867.3" rx="3.6" ry="5.6" transform="rotate(-22 261 867.3)"/><path class="t" d="M259.7 862.4L260.1 862.3L260.5 862.3L260.9 862.3L261.4 862.5L261.9 862.7L262.3 863L262.8 863.4L263.2 863.8L263.6 864.3L264 864.8L264.3 865.4L264.6 866.1L264.8 866.7L265 867.3L265.1 868L265.2 868.6L265.2 869.2L265.1 869.8L265 870.4L264.8 870.8L264.5 871.3L264.3 871.6L263.9 871.9L263.6 872.1"/></g>
<g class="c7"><path class="k" d="M290.6 829.6L290 832.4L287.5 832.1L285.7 829L286.4 826.2L288.8 826.5Z"/><path class="k" d="M288.8 826.5L291.9 825.1"/><path class="k" d="M290.6 829.6L293.7 828.2"/><path class="k" d="M290 832.4L293.1 831"/><path class="k" d="M287.5 832.1L290.7 830.7"/><path class="k" d="M291.9 825.1L293.7 828.2L293.1 831L290.7 830.7"/><ellipse class="k" cx="291.3" cy="827.9" rx="1.9" ry="3.4" transform="rotate(-24 291.3 827.9)"/><path class="k" d="M291.3 824.2L291.5 824.1L291.7 824.1L292 824.1L292.3 824.2L292.6 824.4L292.9 824.6L293.2 824.8L293.4 825.1L293.7 825.4L293.9 825.8L294.2 826.2L294.4 826.5L294.5 827L294.7 827.4L294.7 827.8L294.8 828.2L294.8 828.6L294.8 829L294.8 829.3L294.7 829.6L294.6 829.9L294.4 830.1L294.2 830.3L294 830.4"/><path class="k" d="M291.9 829.4L297.9 826.7M290.6 826.5L296.6 823.8"/><path class="k" d="M296.6 823.8L296.8 823.8L297.2 823.9L297.5 824.1L297.8 824.5L298 824.9L298.2 825.4L298.3 825.8L298.2 826.2L298.1 826.6L297.9 826.7"/><path class="t" d="M292.3 825.7L292.7 825.7L293.1 825.9L293.5 826.3L293.8 826.8L294 827.4L294 827.9L293.9 828.4L293.6 828.6M294 824.9L294.4 824.9L294.8 825.1L295.2 825.5L295.5 826L295.7 826.6L295.7 827.2L295.6 827.6L295.3 827.9M295.7 824.2L296.1 824.2L296.5 824.4L296.9 824.8L297.2 825.3L297.4 825.9L297.4 826.4L297.3 826.9L297 827.1"/></g>
<g class="w15"><path class="k" d="M276 840.1L275.3 842.9L272.9 842.7L271.1 839.6L271.7 836.8L274.2 837Z"/><path class="k" d="M274.2 837L277.3 835.7"/><path class="k" d="M276 840.1L279.1 838.7"/><path class="k" d="M275.3 842.9L278.4 841.5"/><path class="k" d="M272.9 842.7L276 841.3"/><path class="k" d="M277.3 835.7L279.1 838.7L278.4 841.5L276 841.3"/><ellipse class="k" cx="276.7" cy="838.5" rx="1.9" ry="3.4" transform="rotate(-24 276.7 838.5)"/><path class="k" d="M276.6 834.7L276.9 834.7L277.1 834.7L277.4 834.7L277.7 834.8L278 834.9L278.3 835.1L278.5 835.4L278.8 835.6L279.1 836L279.3 836.3L279.5 836.7L279.7 837.1L279.9 837.5L280 837.9L280.1 838.3L280.2 838.7L280.2 839.1L280.2 839.5L280.2 839.9L280.1 840.2L280 840.4L279.8 840.7L279.6 840.8L279.4 841"/><path class="k" d="M277.3 839.9L283.2 837.3M276 837L281.9 834.4"/><path class="k" d="M281.9 834.4L282.2 834.3L282.5 834.4L282.9 834.7L283.2 835L283.4 835.5L283.6 835.9L283.6 836.4L283.6 836.8L283.5 837.1L283.2 837.3"/><path class="t" d="M277.7 836.2L278.1 836.2L278.5 836.4L278.9 836.8L279.2 837.3L279.4 837.9L279.4 838.5L279.3 838.9L279 839.2M279.4 835.5L279.8 835.5L280.2 835.7L280.6 836.1L280.9 836.6L281 837.2L281.1 837.7L281 838.2L280.7 838.4M281.1 834.7L281.5 834.7L281.9 834.9L282.2 835.3L282.6 835.8L282.7 836.4L282.8 837L282.7 837.4L282.4 837.7"/></g>
<g class="w15"><path class="k" d="M296.9 844.9L296.3 847.7L293.8 847.4L292 844.3L292.7 841.5L295.1 841.8Z"/><path class="k" d="M295.1 841.8L298.2 840.4"/><path class="k" d="M296.9 844.9L300 843.5"/><path class="k" d="M296.3 847.7L299.4 846.3"/><path class="k" d="M293.8 847.4L296.9 846"/><path class="k" d="M298.2 840.4L300 843.5L299.4 846.3L296.9 846"/><ellipse class="k" cx="297.6" cy="843.2" rx="1.9" ry="3.4" transform="rotate(-24 297.6 843.2)"/><path class="k" d="M297.5 839.5L297.8 839.4L298 839.4L298.3 839.5L298.6 839.5L298.9 839.7L299.2 839.9L299.4 840.1L299.7 840.4L300 840.7L300.2 841.1L300.4 841.5L300.6 841.9L300.8 842.3L300.9 842.7L301 843.1L301.1 843.5L301.1 843.9L301.1 844.3L301.1 844.6L301 844.9L300.9 845.2L300.7 845.4L300.5 845.6L300.3 845.7"/><path class="k" d="M298.2 844.7L304.2 842M296.9 841.8L302.8 839.1"/><path class="k" d="M302.8 839.1L303.1 839.1L303.5 839.2L303.8 839.4L304.1 839.8L304.3 840.2L304.5 840.7L304.5 841.1L304.5 841.5L304.4 841.9L304.2 842"/><path class="t" d="M298.6 841L299 841L299.4 841.2L299.8 841.6L300.1 842.1L300.3 842.7L300.3 843.2L300.2 843.7L299.9 843.9M300.3 840.2L300.7 840.2L301.1 840.4L301.5 840.8L301.8 841.3L302 841.9L302 842.5L301.9 842.9L301.6 843.2M302 839.5L302.4 839.5L302.8 839.7L303.2 840.1L303.5 840.6L303.7 841.2L303.7 841.7L303.6 842.2L303.3 842.4"/></g>
<g class="w15"><path class="k" d="M283.8 858.8L283.2 861.6L280.7 861.4L278.9 858.3L279.6 855.5L282 855.7Z"/><path class="k" d="M282 855.7L285.1 854.4"/><path class="k" d="M283.8 858.8L286.9 857.4"/><path class="k" d="M283.2 861.6L286.3 860.2"/><path class="k" d="M280.7 861.4L283.9 860"/><path class="k" d="M285.1 854.4L286.9 857.4L286.3 860.2L283.9 860"/><ellipse class="k" cx="284.5" cy="857.2" rx="1.9" ry="3.4" transform="rotate(-24 284.5 857.2)"/><path class="k" d="M284.5 853.4L284.7 853.4L284.9 853.4L285.2 853.4L285.5 853.5L285.8 853.6L286.1 853.8L286.4 854.1L286.6 854.3L286.9 854.7L287.1 855L287.4 855.4L287.5 855.8L287.7 856.2L287.8 856.6L287.9 857L288 857.4L288 857.8L288 858.2L288 858.6L287.9 858.9L287.8 859.1L287.6 859.4L287.4 859.5L287.2 859.7"/><path class="k" d="M285.1 858.6L291.1 856M283.8 855.7L289.8 853.1"/><path class="k" d="M289.8 853.1L290 853L290.4 853.1L290.7 853.4L291 853.7L291.2 854.2L291.4 854.6L291.5 855.1L291.4 855.5L291.3 855.8L291.1 856"/><path class="t" d="M285.5 854.9L285.9 854.9L286.3 855.1L286.7 855.5L287 856L287.2 856.6L287.2 857.2L287.1 857.6L286.8 857.9M287.2 854.2L287.6 854.2L288 854.4L288.4 854.8L288.7 855.3L288.9 855.9L288.9 856.4L288.8 856.9L288.5 857.1M288.9 853.4L289.3 853.4L289.7 853.6L290.1 854L290.4 854.5L290.6 855.1L290.6 855.7L290.5 856.1L290.2 856.4"/></g>
<g class="w15"><path class="k" d="M309.3 858.1L308.7 860.9L306.2 860.7L304.4 857.6L305.1 854.8L307.5 855.1Z"/><path class="k" d="M307.5 855.1L310.6 853.7"/><path class="k" d="M309.3 858.1L312.4 856.8"/><path class="k" d="M308.7 860.9L311.8 859.6"/><path class="k" d="M306.2 860.7L309.4 859.3"/><path class="k" d="M310.6 853.7L312.4 856.8L311.8 859.6L309.4 859.3"/><ellipse class="k" cx="310" cy="856.5" rx="1.9" ry="3.4" transform="rotate(-24 310 856.5)"/><path class="k" d="M310 852.8L310.2 852.7L310.4 852.7L310.7 852.7L311 852.8L311.3 852.9L311.6 853.1L311.9 853.4L312.1 853.7L312.4 854L312.6 854.3L312.9 854.7L313.1 855.1L313.2 855.5L313.4 855.9L313.5 856.4L313.5 856.8L313.5 857.2L313.5 857.5L313.5 857.9L313.4 858.2L313.3 858.5L313.1 858.7L312.9 858.9L312.7 859"/><path class="k" d="M310.6 857.9L316.6 855.3M309.3 855L315.3 852.4"/><path class="k" d="M315.3 852.4L315.5 852.3L315.9 852.4L316.2 852.7L316.5 853L316.7 853.5L316.9 853.9L317 854.4L316.9 854.8L316.8 855.1L316.6 855.3"/><path class="t" d="M311 854.3L311.4 854.2L311.8 854.4L312.2 854.8L312.5 855.4L312.7 855.9L312.7 856.5L312.6 856.9L312.3 857.2M312.7 853.5L313.1 853.5L313.5 853.7L313.9 854.1L314.2 854.6L314.4 855.2L314.4 855.7L314.3 856.2L314 856.4M314.4 852.8L314.8 852.7L315.2 852.9L315.6 853.3L315.9 853.9L316.1 854.4L316.1 855L316 855.4L315.7 855.7"/></g>
<g class="w15"><path class="k" d="M296.4 867.8L295.7 870.6L293.3 870.4L291.5 867.3L292.1 864.5L294.6 864.7Z"/><path class="k" d="M294.6 864.7L297.7 863.4"/><path class="k" d="M296.4 867.8L299.5 866.4"/><path class="k" d="M295.7 870.6L298.8 869.3"/><path class="k" d="M293.3 870.4L296.4 869"/><path class="k" d="M297.7 863.4L299.5 866.4L298.8 869.3L296.4 869"/><ellipse class="k" cx="297.1" cy="866.2" rx="1.9" ry="3.4" transform="rotate(-24 297.1 866.2)"/><path class="k" d="M297 862.5L297.3 862.4L297.5 862.4L297.8 862.4L298.1 862.5L298.4 862.6L298.7 862.8L298.9 863.1L299.2 863.4L299.5 863.7L299.7 864L299.9 864.4L300.1 864.8L300.3 865.2L300.4 865.6L300.5 866L300.6 866.5L300.6 866.8L300.6 867.2L300.6 867.6L300.5 867.9L300.4 868.1L300.2 868.4L300 868.5L299.8 868.7"/><path class="k" d="M297.7 867.6L303.6 865M296.4 864.7L302.3 862.1"/><path class="k" d="M302.3 862.1L302.6 862L302.9 862.1L303.3 862.4L303.6 862.7L303.8 863.2L304 863.6L304 864.1L304 864.5L303.9 864.8L303.6 865"/><path class="t" d="M298.1 864L298.5 863.9L298.9 864.1L299.3 864.5L299.6 865.1L299.8 865.6L299.8 866.2L299.7 866.6L299.4 866.9M299.8 863.2L300.2 863.2L300.6 863.4L301 863.8L301.3 864.3L301.5 864.9L301.5 865.4L301.4 865.9L301.1 866.1M301.5 862.4L301.9 862.4L302.3 862.6L302.6 863L303 863.5L303.1 864.1L303.2 864.7L303.1 865.1L302.8 865.4"/></g>
<g class="c2"><path class="k" d="M98.4 1061.9L97.7 1065.2L94.9 1064.9L92.8 1061.3L93.5 1058L96.3 1058.3Z"/><path class="k" d="M96.3 1058.3L100 1056.7"/><path class="k" d="M98.4 1061.9L102.1 1060.3"/><path class="k" d="M97.7 1065.2L101.3 1063.6"/><path class="k" d="M94.9 1064.9L98.5 1063.3"/><path class="k" d="M100 1056.7L102.1 1060.3L101.3 1063.6L98.5 1063.3"/><ellipse class="k" cx="99.3" cy="1060" rx="2.2" ry="4" transform="rotate(-24 99.3 1060)"/><path class="k" d="M99 1055.7L99.3 1055.6L99.6 1055.6L99.9 1055.6L100.2 1055.8L100.6 1055.9L100.9 1056.1L101.2 1056.4L101.6 1056.8L101.9 1057.1L102.1 1057.6L102.4 1058L102.6 1058.5L102.8 1059L103 1059.4L103.1 1059.9L103.2 1060.4L103.2 1060.9L103.2 1061.3L103.1 1061.7L103 1062.1L102.9 1062.4L102.7 1062.7L102.5 1062.9L102.3 1063"/><path class="k" d="M99.9 1061.5L108.2 1057.9M98.6 1058.4L106.8 1054.8"/><path class="k" d="M106.8 1054.8L107.1 1054.7L107.4 1054.8L107.8 1055.1L108.1 1055.5L108.3 1055.9L108.5 1056.4L108.6 1056.9L108.5 1057.3L108.4 1057.7L108.2 1057.9"/><path class="t" d="M100.9 1057.4L101.3 1057.3L101.7 1057.6L102.1 1058L102.5 1058.5L102.7 1059.2L102.7 1059.8L102.6 1060.2L102.3 1060.5M103.3 1056.3L103.6 1056.3L104.1 1056.5L104.5 1056.9L104.8 1057.5L105 1058.1L105.1 1058.7L104.9 1059.2L104.6 1059.4M105.6 1055.3L106 1055.3L106.4 1055.5L106.8 1055.9L107.2 1056.4L107.4 1057.1L107.4 1057.7L107.3 1058.1L107 1058.4"/></g>
<ellipse class="k" cx="434.1" cy="807.4" rx="5.9" ry="8.6" transform="rotate(-30 434.1 807.4)"/><path class="t" d="M430.4 806.3L437.2 808.8M432.6 803.8L435.1 811.7"/><path class="k" d="M437.8 799.3L444.3 798.6L452.5 790.8M439 815.3L443.9 808.6L456.4 798.6"/><path class="k" d="M451.8 791.1L452.6 791L453.6 791.4L454.8 792.3L455.9 793.6L456.8 795L457.3 796.4L457.4 797.5L457 798.2"/><path class="t" d="M442.5 799.4L443.3 799.3L444.3 799.7L445.4 800.6L446.5 801.8L447.4 803.3L447.9 804.6L448 805.7L447.6 806.4M443.9 798.3L444.6 798.2L445.7 798.6L446.8 799.5L447.9 800.8L448.7 802.2L449.2 803.5L449.3 804.6L448.9 805.3M445.2 797.3L446 797.1L447 797.5L448.2 798.4L449.2 799.7L450.1 801.1L450.6 802.4L450.7 803.5L450.3 804.2M446.6 796.2L447.4 796L448.4 796.4L449.5 797.3L450.6 798.6L451.4 800L451.9 801.4L452 802.5L451.7 803.1M448 795.1L448.7 795L449.7 795.4L450.9 796.3L451.9 797.5L452.8 798.9L453.3 800.3L453.4 801.4L453 802M449.3 794L450.1 793.9L451.1 794.3L452.2 795.2L453.3 796.4L454.2 797.8L454.7 799.2L454.7 800.3L454.4 801M450.7 792.9L451.4 792.8L452.4 793.2L453.6 794.1L454.7 795.3L455.5 796.8L456 798.1L456.1 799.2L455.7 799.9" style="stroke-width:0.8"/></g>
<!-- 30_rotparts.svg -->
<g><path class="kf" d="M313.6 793.3L321.4 790.2L323 789.7L324.6 789.4L326.2 789.2L327.9 789.3L329.7 789.5L331.4 789.8L333.2 790.4L335 791.1L336.7 792L338.5 793.1L340.2 794.3L341.9 795.6L343.5 797.1L345.1 798.8L346.6 800.5L348 802.4L349.3 804.3L350.5 806.3L351.7 808.5L352.7 810.6L353.6 812.8L354.3 815.1L355 817.4L355.5 819.6L355.9 821.9L356.1 824.1L356.2 826.3L356.2 828.5L356 830.6L355.7 832.6L355.2 834.5L354.6 836.4L353.9 838.1L353.1 839.7L352.1 841.1L351.1 842.4L349.9 843.6L348.6 844.6L347.2 845.5L345.8 846.2L338 849.3L336.4 849.8L334.8 850.1L333.2 850.3L331.5 850.2L329.7 850L328 849.7L326.2 849.1L324.4 848.4L322.7 847.5L320.9 846.4L319.2 845.2L317.5 843.9L315.9 842.4L314.3 840.7L312.8 839L311.4 837.1L310.1 835.2L308.9 833.2L307.7 831L306.7 828.9L305.8 826.7L305.1 824.4L304.4 822.1L303.9 819.9L303.5 817.6L303.3 815.4L303.2 813.2L303.2 811L303.4 808.9L303.7 806.9L304.2 805L304.8 803.1L305.5 801.4L306.3 799.8L307.3 798.4L308.3 797.1L309.5 795.9L310.8 794.9L312.2 794L313.6 793.3Z"/><ellipse class="kf" cx="325.8" cy="821.3" rx="30.5" ry="20.5" transform="rotate(65 325.8 821.3)"/><path class="t" d="M315.2 792.7L317.3 792.1L319.4 791.8L321.7 791.7L324 792.1L326.4 792.7L328.7 793.6L331.1 794.8L333.4 796.3L335.6 798.1L337.8 800.1L339.8 802.4L341.7 804.8L343.5 807.5L345.1 810.2L346.4 813.1L347.6 816.1L348.5 819.1L349.3 822.1L349.7 825.1L350 828.1L349.9 831L349.7 833.8L349.2 836.4L348.4 838.8L347.4 841.1L346.2 843.1L344.8 844.9L343.2 846.5L341.4 847.7L339.5 848.6"/><path class="t" d="M316.8 792.1L318.8 791.5L321 791.1L323.3 791.1L325.6 791.4L327.9 792.1L330.3 793L332.6 794.2L335 795.7L337.2 797.5L339.4 799.5L341.4 801.8L343.3 804.2L345 806.8L346.6 809.6L348 812.5L349.2 815.4L350.1 818.5L350.8 821.5L351.3 824.5L351.5 827.5L351.5 830.4L351.2 833.1L350.7 835.8L350 838.2L349 840.5L347.8 842.5L346.4 844.3L344.8 845.8L343 847.1L341.1 848"/><path class="t" d="M318.3 791.5L320.4 790.8L322.6 790.5L324.8 790.5L327.1 790.8L329.5 791.4L331.9 792.4L334.2 793.6L336.5 795.1L338.8 796.9L340.9 798.9L343 801.1L344.9 803.6L346.6 806.2L348.2 809L349.5 811.9L350.7 814.8L351.7 817.8L352.4 820.9L352.8 823.9L353.1 826.9L353.1 829.7L352.8 832.5L352.3 835.1L351.5 837.6L350.5 839.9L349.3 841.9L347.9 843.7L346.3 845.2L344.6 846.5L342.6 847.4"/><path class="t" d="M319.9 790.9L321.9 790.2L324.1 789.9L326.4 789.9L328.7 790.2L331 790.8L333.4 791.7L335.8 793L338.1 794.5L340.3 796.3L342.5 798.3L344.5 800.5L346.4 803L348.2 805.6L349.7 808.4L351.1 811.2L352.3 814.2L353.2 817.2L353.9 820.3L354.4 823.3L354.6 826.2L354.6 829.1L354.3 831.9L353.8 834.5L353.1 837L352.1 839.2L350.9 841.3L349.5 843.1L347.9 844.6L346.1 845.8L344.2 846.8"/><ellipse class="k" cx="326.4" cy="821.3" rx="28.2" ry="18.6" transform="rotate(65 326.4 821.3)"/><ellipse class="t" cx="327.2" cy="821.1" rx="25" ry="16" transform="rotate(65 327.2 821.1)"/><path class="t" d="M329.6 842.1L326 840.5L322.5 838L319.3 834.7L316.5 830.7L314.2 826.3L312.5 821.6L311.6 816.8L311.4 812.3L312 808.2L313.4 804.7L315.4 802L318.1 800.2L321.2 799.3L324.6 799.5L328.1 800.7L331.7 802.9L335 805.9L338.1 809.6L340.6 813.9L342.5 818.5L343.7 823.3L344.2 827.9L343.9 832.2L342.8 836"/><ellipse class="k" cx="328.4" cy="821" rx="18.6" ry="11.4" transform="rotate(65 328.4 821)"/><ellipse class="k" cx="328.8" cy="821.7" rx="11.6" ry="6.8" transform="rotate(65 328.8 821.7)"/><path class="t" d="M333.8 832.2L332.9 832.2L332.1 832.1L331.2 831.8L330.3 831.4L329.3 830.9L328.4 830.3L327.5 829.5L326.7 828.6L325.9 827.6L325.1 826.5L324.4 825.4L323.8 824.2L323.3 822.9L322.9 821.7L322.5 820.4L322.3 819.1L322.2 817.9L322.1 816.7L322.2 815.6L322.4 814.6L322.7 813.6L323.1 812.8L323.5 812.1L324.1 811.4"/><ellipse class="k" cx="316.4" cy="814.7" rx="1" ry="1.5" transform="rotate(-20 316.4 814.7)"/><ellipse class="k" cx="322" cy="829" rx="1" ry="1.5" transform="rotate(-20 322 829)"/><ellipse class="k" cx="331.4" cy="833.9" rx="1" ry="1.5" transform="rotate(-20 331.4 833.9)"/><ellipse class="k" cx="322" cy="808.4" rx="1" ry="1.5" transform="rotate(-20 322 808.4)"/><path class="k" d="M318.1 843L320.2 846.2L322.7 845.1M324.4 846.5L326.2 849L328.6 847.9"/>
<path class="t" d="M476.3 698.1L478.2 697.4L480.2 697L482.3 697L484.4 697.3L486.6 698L488.7 699.1L490.8 700.4L492.7 702.1L494.5 704L496.2 706.1L497.7 708.5L499 711L500 713.6L500.7 716.3L501.2 719L501.5 721.7L501.4 724.3L501 726.8L500.4 729.2L499.5 731.3L498.4 733.3L497 734.9L495.5 736.3L493.7 737.4"/><ellipse class="kf" cx="483.8" cy="718.2" rx="21.5" ry="15.5" transform="rotate(68 483.8 718.2)"/><path class="k" d="M460.9 713.8L479.6 702.9M464.7 714.1L483.5 703.2M468.6 716L487.4 705.1M472.2 719.3L490.9 708.4M474.9 723.7L493.6 712.8M476.6 728.7L495.3 717.8M477 733.7L495.8 722.8M476.2 738.2L494.9 727.4M474.1 741.8L492.8 730.9" style="stroke-width:1.5"/><path class="kf" d="M447.4 715.4L456.9 710.8L458 710.4L459.1 710.1L460.2 709.9L461.3 709.8L462.5 709.8L463.7 710L464.9 710.2L466.1 710.6L467.3 711.1L468.5 711.7L469.7 712.5L470.8 713.3L471.9 714.2L472.9 715.2L473.9 716.3L474.9 717.5L475.8 718.7L476.6 720L477.4 721.4L478 722.8L478.6 724.3L479.2 725.7L479.6 727.2L479.9 728.8L480.2 730.3L480.3 731.8L480.4 733.3L480.3 734.7L480.2 736.2L480 737.6L479.7 738.9L479.3 740.2L478.8 741.4L478.2 742.5L477.5 743.6L476.8 744.5L476 745.4L475.1 746.1L474.2 746.8L473.2 747.4L463.7 752L462.6 752.4L461.6 752.7L460.4 752.9L459.3 753L458.1 753L456.9 752.8L455.7 752.5L454.5 752.2L453.3 751.7L452.1 751L451 750.3L449.8 749.5L448.7 748.6L447.7 747.6L446.7 746.5L445.7 745.3L444.8 744.1L444 742.8L443.3 741.4L442.6 740L442 738.5L441.5 737L441.1 735.5L440.7 734L440.5 732.5L440.3 731L440.3 729.5L440.3 728L440.4 726.6L440.6 725.2L441 723.9L441.4 722.6L441.9 721.4L442.4 720.3L443.1 719.2L443.8 718.3L444.6 717.4L445.5 716.6L446.4 716L447.4 715.4Z"/><ellipse class="kf" cx="455.6" cy="733.7" rx="20" ry="14.4" transform="rotate(68 455.6 733.7)"/><ellipse class="t" cx="456.1" cy="733.7" rx="16.2" ry="11.4" transform="rotate(68 456.1 733.7)"/><ellipse class="k" cx="456.8" cy="733.5" rx="12.2" ry="8.4" transform="rotate(68 456.8 733.5)"/><ellipse class="k" cx="457.4" cy="733.3" rx="9" ry="6" transform="rotate(68 457.4 733.3)"/><path class="t" d="M460.7 741.5L460 741.5L459.3 741.4L458.5 741.2L457.7 740.9L457 740.5L456.3 740L455.6 739.4L454.9 738.6L454.3 737.9L453.7 737L453.2 736.1L452.8 735.1L452.4 734.2L452.2 733.2L452 732.2L451.9 731.2L451.9 730.2L451.9 729.3L452.1 728.4L452.3 727.5L452.7 726.8L453.1 726.1L453.5 725.5L454.1 725.1"/><ellipse class="t" cx="459.1" cy="747.4" rx="1" ry="1.5" transform="rotate(-20 459.1 747.4)"/><ellipse class="t" cx="448.9" cy="740.7" rx="1" ry="1.5" transform="rotate(-20 448.9 740.7)"/><ellipse class="t" cx="446.1" cy="727" rx="1" ry="1.5" transform="rotate(-20 446.1 727)"/><ellipse class="t" cx="453.6" cy="720" rx="1" ry="1.5" transform="rotate(-20 453.6 720)"/><ellipse class="t" cx="463.9" cy="726.7" rx="1" ry="1.5" transform="rotate(-20 463.9 726.7)"/><ellipse class="t" cx="466.6" cy="740.4" rx="1" ry="1.5" transform="rotate(-20 466.6 740.4)"/>
<g class="w15"><path class="k" d="M620.7 435.3L630.7 430.1L631.1 429.9L631.5 429.8L632 429.7L632.4 429.6L632.9 429.6L633.3 429.7L633.8 429.8L634.3 429.9L634.8 430.1L635.2 430.4L635.7 430.6L636.2 431L636.6 431.3L637 431.7L637.4 432.1L637.8 432.6L638.2 433.1L638.5 433.6L638.9 434.1L639.2 434.7L639.4 435.3L639.6 435.9L639.8 436.4L640 437L640.1 437.6L640.2 438.2L640.2 438.8L640.2 439.4L640.2 440L640.1 440.5L640 441.1L639.9 441.6L639.7 442.1L639.5 442.5L639.3 442.9L639 443.3L638.7 443.7L638.4 444L638 444.3L637.6 444.5L627.6 449.7"/><ellipse class="k" cx="624.2" cy="442.5" rx="8" ry="5.6" transform="rotate(66 624.2 442.5)"/><ellipse class="k" cx="624.5" cy="442.5" rx="4.2" ry="2.8" transform="rotate(66 624.5 442.5)"/><ellipse class="b" cx="624.5" cy="442.5" rx="4.2" ry="2.8" transform="rotate(66 624.5 442.5)"/><ellipse class="kf" cx="625.5" cy="442.3" rx="2.9" ry="1.7" transform="rotate(66 625.5 442.3)" style="stroke:none"/><path class="k" d="M635.5 431.3L638.6 431.6L640.3 429.9M638.6 440.8L640.3 438.3L641.7 436.6M640.3 429.9L647 427.9M641.7 436.6L647.7 432.7"/><path class="k" d="M646.1 428L646.5 428L647 428.3L647.6 429L648.2 429.8L648.6 430.7L648.8 431.6L648.7 432.2L648.5 432.6"/><path class="t" d="M640.4 430.8L640.8 430.8L641.4 431.2L642 431.9L642.6 432.8L643 433.8L643.2 434.7L643.2 435.3L643 435.7"/><path class="t" d="M642.2 429.9L642.6 429.9L643.2 430.3L643.8 431L644.4 431.9L644.8 432.9L645.1 433.8L645.1 434.5L644.8 434.9"/><path class="t" d="M644 429.1L644.4 429.1L645 429.5L645.6 430.2L646.2 431.1L646.6 432.1L646.9 433L646.9 433.7L646.6 434"/></g>
<g class="w15"><path class="k" d="M664.7 411.4L676.7 406.2L677.4 405.9L678.2 405.7L679.1 405.6L679.9 405.6L680.8 405.6L681.7 405.8L682.6 406L683.5 406.4L684.4 406.8L685.3 407.3L686.1 407.9L686.9 408.5L687.7 409.3L688.5 410.1L689.3 410.9L690 411.9L690.6 412.8L691.2 413.8L691.8 414.9L692.2 416L692.7 417.1L693 418.2L693.3 419.4L693.6 420.5L693.7 421.7L693.8 422.8L693.9 423.9L693.8 425L693.7 426.1L693.5 427.1L693.3 428.1L693 429.1L692.6 430L692.2 430.8L691.7 431.5L691.1 432.2L690.5 432.8L689.8 433.4L689.1 433.8L688.4 434.2L676.4 439.4"/><ellipse class="k" cx="670.5" cy="425.4" rx="15.2" ry="10.6" transform="rotate(68 670.5 425.4)"/><ellipse class="k" cx="670.8" cy="425.4" rx="13.8" ry="9.4" transform="rotate(68 670.8 425.4)"/><ellipse class="t" cx="671.3" cy="425.4" rx="11.2" ry="7.2" transform="rotate(68 671.3 425.4)"/><ellipse class="k" cx="671.7" cy="425.4" rx="8.2" ry="5.2" transform="rotate(68 671.7 425.4)"/><ellipse class="k" cx="672.1" cy="425.4" rx="4.6" ry="3" transform="rotate(68 672.1 425.4)"/><path class="t" d="M668.7 423.3L671.9 422.3L673.9 425.1L672.2 428.2L669.4 427.1Z"/><path class="k" d="M688.7 412.8C689.2 412.3 690.6 410.2 691.5 410C692.4 409.8 693.7 410.8 694 411.7C694.4 412.5 694.2 414.2 693.8 415C693.3 415.9 691.9 416.4 691.5 416.7"/></g>
<g class="w15"><path class="k" d="M705.8 396.9L716.8 391.3L717.6 390.9L718.4 390.7L719.2 390.5L720.1 390.4L721 390.5L721.9 390.6L722.8 390.8L723.7 391L724.6 391.4L725.5 391.9L726.3 392.4L727.2 393L728 393.7L728.8 394.5L729.6 395.3L730.3 396.2L731 397.1L731.6 398.1L732.2 399.1L732.7 400.2L733.2 401.3L733.6 402.4L733.9 403.6L734.2 404.7L734.4 405.9L734.6 407L734.6 408.1L734.6 409.2L734.5 410.3L734.4 411.4L734.2 412.4L733.9 413.4L733.5 414.3L733.1 415.2L732.6 416L732.1 416.7L731.5 417.4L730.8 418L730.1 418.5L729.4 418.9L718.4 424.5"/><ellipse class="k" cx="712.1" cy="410.7" rx="15.2" ry="10.8" transform="rotate(68 712.1 410.7)"/><ellipse class="k" cx="712.3" cy="410.7" rx="12" ry="8.2" transform="rotate(68 712.3 410.7)" style="stroke-width:4.4;stroke-dasharray:1.9 1.7"/><ellipse class="k" cx="712.3" cy="410.7" rx="14.2" ry="10" transform="rotate(68 712.3 410.7)" style="stroke-width:1.6"/><ellipse class="k" cx="712.7" cy="410.7" rx="7.4" ry="4.8" transform="rotate(68 712.7 410.7)" style="stroke-width:2.2"/><ellipse class="k" cx="713" cy="410.9" rx="3.4" ry="2.4" transform="rotate(68 713 410.9)"/><path class="k" d="M730.4 398.5C730.8 398.1 731.8 396.2 732.7 396C733.5 395.8 735 396.4 735.5 397.1C736 397.8 736 399.4 735.8 400.2C735.5 401 734.1 401.8 733.8 402.2"/></g>
<path class="kf" d="M763.6 532L791.1 518L791.6 517.8L792.1 517.6L792.7 517.6L793.2 517.6L793.8 517.6L794.4 517.8L795 518L795.6 518.2L796.2 518.6L796.9 518.9L797.5 519.4L798.1 519.9L798.7 520.5L799.3 521.1L799.9 521.7L800.4 522.4L801 523.1L801.5 523.9L801.9 524.7L802.4 525.5L802.8 526.3L803.1 527.2L803.5 528L803.7 528.9L804 529.8L804.2 530.6L804.3 531.4L804.4 532.3L804.5 533.1L804.4 533.8L804.4 534.6L804.3 535.2L804.1 535.9L803.9 536.5L803.7 537.1L803.4 537.6L803.1 538L802.7 538.4L802.3 538.7L801.9 539L774.4 553L773.9 553.2L773.4 553.4L772.8 553.4L772.3 553.4L771.7 553.4L771.1 553.2L770.5 553L769.9 552.8L769.3 552.4L768.6 552.1L768 551.6L767.4 551.1L766.8 550.5L766.2 549.9L765.6 549.3L765.1 548.6L764.5 547.9L764 547.1L763.6 546.3L763.1 545.5L762.7 544.7L762.4 543.8L762 543L761.8 542.1L761.5 541.2L761.3 540.4L761.2 539.6L761.1 538.7L761 537.9L761.1 537.2L761.1 536.4L761.2 535.8L761.4 535.1L761.6 534.5L761.8 533.9L762.1 533.4L762.4 533L762.8 532.6L763.2 532.3L763.6 532Z"/><ellipse class="kf" cx="769" cy="542.5" rx="11.8" ry="6.6" transform="rotate(63 769 542.5)"/><path class="t" d="M784 521.6L784.8 521.3L785.7 521.2L786.7 521.3L787.7 521.5L788.7 522L789.7 522.6L790.8 523.4L791.8 524.3L792.7 525.3L793.6 526.5L794.5 527.8L795.2 529.1L795.9 530.5L796.4 532L796.8 533.4L797.1 534.8L797.3 536.2L797.3 537.5L797.2 538.7L796.9 539.7L796.5 540.7L796 541.5L795.4 542.2L794.7 542.7"/><path class="t" d="M789.2 519L790 518.7L790.9 518.5L791.9 518.6L792.9 518.9L793.9 519.3L794.9 519.9L796 520.7L797 521.6L798 522.7L798.9 523.9L799.7 525.1L800.5 526.5L801.1 527.9L801.6 529.3L802.1 530.7L802.3 532.1L802.5 533.5L802.5 534.8L802.4 536L802.2 537.1L801.8 538L801.3 538.9L800.7 539.5L799.9 540"/><path class="k" d="M801.8 521.8L808 519L810.2 522.2L804.2 525.4"/><path class="t" d="M795 515L799.5 516.5L802 525M799.2 543.2L803.5 547.2L805.2 544L804.5 539"/><ellipse class="kf" cx="766.5" cy="542" rx="3.4" ry="5.6" transform="rotate(-15 766.5 542)"/><ellipse class="k" cx="766" cy="542" rx="1.8" ry="3" transform="rotate(-15 766 542)"/><path class="t" d="M763.5 537L769 535.5M764.5 548L770 549"/><g class="w15"><path class="kf" d="M740 522.4L748.5 518.2L749.4 517.8L750.3 517.5L751.3 517.4L752.2 517.4L753.3 517.4L754.3 517.6L755.3 517.9L756.4 518.3L757.5 518.8L758.5 519.4L759.6 520.1L760.6 520.9L761.6 521.8L762.6 522.8L763.5 523.8L764.4 524.9L765.3 526.1L766 527.4L766.8 528.7L767.5 530L768.1 531.3L768.6 532.7L769.1 534.1L769.5 535.5L769.8 536.9L770 538.3L770.2 539.7L770.2 541.1L770.2 542.4L770.1 543.7L769.9 544.9L769.6 546L769.3 547.1L768.9 548.2L768.4 549.1L767.8 550L767.2 550.7L766.5 551.4L765.7 552L764.9 552.4L756.4 556.6L755.5 557L754.6 557.3L753.6 557.4L752.7 557.4L751.6 557.4L750.6 557.2L749.6 556.9L748.5 556.5L747.4 556L746.4 555.4L745.3 554.7L744.3 553.9L743.3 553L742.3 552L741.4 551L740.5 549.9L739.6 548.7L738.9 547.4L738.1 546.1L737.4 544.8L736.8 543.5L736.3 542.1L735.8 540.7L735.4 539.3L735.1 537.9L734.9 536.5L734.7 535.1L734.7 533.7L734.7 532.4L734.8 531.1L735 529.9L735.3 528.8L735.6 527.7L736 526.6L736.5 525.7L737.1 524.8L737.7 524.1L738.4 523.4L739.2 522.8L740 522.4Z"/><ellipse class="kf" cx="748.2" cy="539.5" rx="19" ry="12" transform="rotate(65 748.2 539.5)"/><path class="t" d="M742.1 521.4L743.6 520.8L745.2 520.6L746.9 520.6L748.6 521L750.4 521.7L752.1 522.6L753.9 523.8L755.5 525.3L757.1 527L758.6 528.9L759.9 531L761.1 533.2L762 535.5L762.8 537.8L763.4 540.1L763.7 542.5L763.8 544.7L763.7 546.9L763.3 548.9L762.8 550.7L762 552.3L761 553.7L759.8 554.8L758.5 555.6"/><path class="t" d="M744.2 520.3L745.7 519.7L747.3 519.5L749 519.5L750.7 519.9L752.5 520.6L754.2 521.5L756 522.7L757.6 524.2L759.2 525.9L760.7 527.8L762 529.9L763.2 532.1L764.1 534.4L764.9 536.7L765.5 539L765.8 541.4L765.9 543.6L765.8 545.8L765.4 547.8L764.9 549.6L764.1 551.2L763.1 552.6L761.9 553.7L760.6 554.5"/><path class="t" d="M746.3 519.3L747.8 518.7L749.4 518.5L751.1 518.5L752.8 518.9L754.6 519.6L756.3 520.5L758.1 521.7L759.7 523.2L761.3 524.9L762.8 526.8L764.1 528.9L765.3 531.1L766.2 533.4L767 535.7L767.6 538L767.9 540.4L768 542.6L767.9 544.8L767.5 546.8L767 548.6L766.2 550.2L765.2 551.6L764 552.7L762.7 553.5"/><path class="t" d="M740 525L735 528L734.5 539L740 551L750 559L755 557"/><ellipse class="k" cx="748.5" cy="539.5" rx="16" ry="9.8" transform="rotate(65 748.5 539.5)"/><ellipse class="t" cx="749" cy="540" rx="11" ry="6.8" transform="rotate(65 749 540)"/><ellipse class="k" cx="746.7" cy="542" rx="6" ry="4.2" transform="rotate(65 746.7 542)"/><path class="k" d="M742 540L745 538L748.5 540.5L747.8 545L744.5 546.5L741.8 544Z"/></g></g>
<!-- 40_kitbelt.svg -->
<g stroke="#000" stroke-width="1.1" stroke-linejoin="round" stroke-linecap="round" fill="none">
<path d="M577 799.5C578.5 798.2 582.5 794.2 586 792C589.5 789.8 593.8 787.5 598 786C602.2 784.5 606.7 783.2 611 783C615.3 782.8 619.2 783.5 624 785C628.8 786.5 632 787.7 640 792C648 796.3 661.2 804.7 672 811C682.8 817.3 696.3 824.8 705 830C713.7 835.2 718.2 837.8 724 842C729.8 846.2 735 850 740 855C745 860 750.2 866.2 754 872C757.8 877.8 760.7 883.7 763 890C765.3 896.3 767.1 903.3 768 910C768.9 916.7 769.2 924.2 768.5 930C767.8 935.8 765.9 940.8 764 945C762.1 949.2 760.2 952.1 757 955C753.8 957.9 749.5 960.2 745 962.5C740.5 964.8 735.5 966.8 730 969C724.5 971.2 716.7 973.7 712 975.5C707.3 977.3 704.2 978.1 702 980C699.8 981.9 698.8 984.2 698.5 987C698.2 989.8 698.6 993.2 700 997C701.4 1000.8 703.7 1004.8 707 1010C710.3 1015.2 712.8 1019 720 1028C727.2 1037 740 1051.5 750 1064C760 1076.5 773.5 1093.7 780 1103C786.5 1112.3 786.9 1114.5 789 1120C791.1 1125.5 792.2 1131.3 792.5 1136C792.8 1140.7 792.4 1144.7 791 1148C789.6 1151.3 787.3 1153.3 784 1156C780.7 1158.7 773.2 1162.7 771 1164"/>
<path d="M566 824C565.4 817 567.3 812 569 808C570.7 804 573.7 801.9 576 800C578.3 798.1 580.3 796.7 583 796.5C585.7 796.3 585.8 796.4 592 799C598.2 801.6 609.5 807 620 812C630.5 817 643.3 823.2 655 829C666.7 834.8 680.5 842 690 847C699.5 852 705.8 855 712 859C718.2 863 722.7 866.7 727 871C731.3 875.3 734.8 879.8 738 885C741.2 890.2 743.9 896.2 746 902C748.1 907.8 749.7 914.3 750.5 920C751.3 925.7 751.8 931 751 936C750.2 941 748.5 946.2 746 950C743.5 953.8 740 956.3 736 959C732 961.7 727.2 963.8 722 966C716.8 968.2 710 970.2 705 972C700 973.8 695.5 975.3 692 977C688.5 978.7 685.9 979.8 684 982C682.1 984.2 681 986.7 680.5 990C680 993.3 680.1 997.5 681 1002C681.9 1006.5 683.7 1011.8 686 1017C688.3 1022.2 691.7 1027.8 695 1033C698.3 1038.2 700.2 1041.3 706 1048C711.8 1054.7 722.7 1064.3 730 1073C737.3 1081.7 744 1091.7 750 1100C756 1108.3 762.2 1116 766 1123C769.8 1130 771.8 1136.5 773 1142C774.2 1147.5 773.8 1152.2 773 1156C772.2 1159.8 773.5 1160.9 768 1165C762.5 1169.1 749.7 1175.2 740 1180.5C730.3 1185.8 718.7 1192.2 710 1197C701.3 1201.8 693.7 1205.9 688 1209C682.3 1212.1 680 1214.4 676 1215.5C672 1216.6 668.3 1216.9 664 1215.5C659.7 1214.1 654 1210.9 650 1207C646 1203.1 642.4 1197.5 640 1192C637.6 1186.5 636 1179.3 635.5 1174C635 1168.7 635.4 1163.8 637 1160C638.6 1156.2 640.8 1153.9 645 1151C649.2 1148.1 655.7 1145.2 662 1142.5C668.3 1139.8 677.5 1136.9 683 1134.5C688.5 1132.1 692.2 1130.9 695 1128C697.8 1125.1 699.6 1121.3 700 1117C700.4 1112.7 700 1109.5 697.5 1102C695 1094.5 690.4 1084 685 1072C679.6 1060 671.8 1044.2 665 1030C658.2 1015.8 651.9 1002 644 987C636.1 972 626.9 957 617.5 940C608.1 923 595 900 587.5 885C580 870 576.1 860.2 572.5 850C568.9 839.8 566.6 831 566 824Z"/>
<path d="M580 806L591.3 802.8L590.9 803.9L588.4 805.8L577 809.1ZM574.4 812.4L589.6 808.1L590 809.4L587.9 811.8L572.5 816.2ZM571 820.4L590.3 815L591.6 816.3L589.9 818.9L570.4 824.3ZM570.4 828.8L593.6 822.5L595.8 823.9L594.3 826.4L570.9 832.8ZM571.5 837.3L594.9 830.9L597.2 832.4L595.9 835L572.2 841.5ZM573.1 845.6L596.7 839.3L599.3 840.7L598.2 843.3L574.3 849.7ZM575.9 853.9L599.7 847.6L602.4 848.7L601.5 851.2L577.4 857.6ZM579.2 861.7L603.2 855.5L606 856.5L605.1 859.1L580.8 865.4ZM582.7 869.5L607 863.2L609.9 864.2L609 866.7L584.5 873ZM586.7 877L611.1 870.8L614.1 871.7L613.4 874.2L588.7 880.4ZM590.8 884.1L615.5 877.9L618.7 879.1L617.9 881.5L593 887.8ZM595.1 891.5L620 885.3L623.1 886.5L622.4 888.9L597.2 895.2ZM599.4 898.8L624.5 892.7L627.6 893.9L626.7 896.1L601.4 902.3ZM603.6 906.2L628.9 900L632 901L631.2 903.4L605.6 909.6ZM607.9 913.5L633.4 907.4L636.5 908.4L635.7 910.8L609.9 917ZM612 920.7L637.8 914.6L641 915.8L640 918L614 924.1ZM616.3 928L642.2 922L645.3 923L644.5 925.4L618.3 931.5ZM620.4 935.2L646.5 929.1L649.8 930.4L648.8 932.5L622.4 938.7ZM624.6 942.6L651 936.5L654.1 937.5L653.3 939.9L626.6 946ZM628.7 949.7L655.3 943.7L658.5 944.7L657.6 947.1L630.7 953.2ZM632.9 956.8L659.5 950.8L662.8 952L661.7 954.2L634.9 960.3ZM637.1 964.2L663.5 958L666.7 959L665.8 961.4L639.1 967.7ZM641.1 971.4L667.4 965.1L670.6 966L669.7 968.5L643.1 974.9ZM645.1 978.6L671.3 972.1L674.4 973.1L673.3 975.4L646.9 981.9ZM648.9 985.7L674.9 979.1L677.9 980L676.9 982.3L650.6 989ZM652.5 992.8L678.4 986.1L681.3 986.8L680.2 989.1L654 996ZM655.8 999.6L681.5 992.7L684.5 993.6L683.4 996L657.4 1003ZM659 1006.4L684.6 999.3L687.5 1000.3L686.3 1002.4L660.4 1009.5ZM662.1 1013.2L687.6 1006L690.4 1006.7L689.2 1008.9L663.5 1016.1ZM665.1 1019.5L690.4 1012.2L693.2 1012.9L692.2 1015.3L666.5 1022.7ZM668 1025.9L693.2 1018.4L696.1 1019.1L694.9 1021.3L669.4 1028.8ZM670.9 1032L696 1024.4L698.8 1025.1L697.7 1027.2L672.3 1034.9ZM673.8 1038L698.8 1030.4L701.7 1031L700.4 1033L675.2 1040.7ZM676.7 1043.9L701.5 1036.1L704.4 1036.8L703.1 1038.7L678 1046.6ZM679.4 1049.5L704.2 1041.6L707 1042.3L705.8 1044.4L680.8 1052.4ZM682.2 1055.4L706.9 1047.3L709.7 1048L708.4 1050L683.5 1058.1ZM684.9 1061L709.4 1052.9L712.2 1053.5L711.1 1055.7L686.3 1064ZM687.7 1066.9L712.1 1058.7L714.7 1059.1L713.6 1061.3L688.9 1069.6ZM690.2 1072.6L714.6 1064.3L717.3 1065L716 1067L691.4 1075.4ZM692.7 1078.4L717 1070.1L719.7 1070.7L718.4 1072.8L693.8 1081.1ZM695.1 1084.1L719.3 1075.9L722 1076.5L720.7 1078.5L696.2 1086.9ZM697.4 1089.9L721.6 1081.7L724.2 1082.4L722.9 1084.4L698.4 1092.8ZM699.5 1095.8L723.7 1087.5L726.3 1088.2L725 1090.3L700.5 1098.6ZM701.6 1101.7L725.7 1093.4L728.3 1094.1L726.9 1096.2L702.5 1104.6ZM703.3 1107.7L727.4 1099.4L729.9 1100.2L728.3 1102.3L703.9 1110.6ZM704.4 1113.9L728.4 1105.6L730.7 1106.1L729 1108.5L704.7 1116.9ZM704.8 1120.1L728.8 1111.8L730.9 1112.4L729 1114.5L704.7 1122.8ZM704.3 1126.1L728.3 1117.8L730.2 1118.6L728 1120.7L703.8 1129ZM702.7 1132.1L726.7 1123.8L728.3 1124.2L725.7 1126.5L701.5 1134.8Z" stroke-width="0.9774999999999999"/><path d="M576.8 810L585.8 807.4M575.8 811.1L584.9 808.5M577 809.1L576.9 809.8L576 810.9L574.4 812.4M572.9 817.3L585.2 813.8M572.4 818.9L584.6 815.5M572.5 816.2L573 817L572.5 818.4L571 820.4M571.6 825.5L587.1 821.2M571.6 827.2L587.1 822.9M570.4 824.3L571.6 825.2L571.6 826.7L570.4 828.8M572.6 834.1L591.2 829M572.8 835.6L591.4 830.5M570.9 832.8L572.6 833.9L572.7 835.1L571.5 837.3M574 842.5L592.8 837.4M574.4 844L593.2 838.9M572.2 841.5L574 842.3L574.3 843.7L573.1 845.6M576.4 850.7L595.4 845.6M576.9 852.1L595.9 847M574.3 849.7L576.3 850.5L576.8 851.9L575.9 853.9M579.5 858.6L598.7 853.5M580.2 860.2L599.4 855.1M577.4 857.6L579.5 858.3L580 859.7L579.2 861.7M583 866.3L602.3 861.3M583.8 867.9L603.1 862.9M580.8 865.4L582.9 866.1L583.5 867.5L582.7 869.5M586.8 874L606.3 868.9M587.5 875.3L607 870.3M584.5 873L586.7 873.7L587.4 875.1L586.7 877M591 881.3L610.7 876.3M591.8 882.6L611.5 877.6M588.7 880.4L590.9 881.1L591.7 882.4L590.8 884.1M595.3 888.7L615.2 883.7M596.1 890L615.9 885M593 887.8L595.2 888.5L595.9 889.8L595.1 891.5M599.6 896L619.6 891.1M600.3 897.3L620.4 892.4M597.2 895.2L599.5 895.8L600.1 896.9L599.4 898.8M603.8 903.2L623.9 898.2M604.6 904.7L624.8 899.7M601.4 902.3L603.6 903L604.4 904.3L603.6 906.2M608 910.5L628.4 905.6M608.8 911.8L629.1 906.9M605.6 909.6L607.9 910.3L608.7 911.6L607.9 913.5M612.3 917.9L632.8 913M613.1 919.2L633.6 914.3M609.9 917L612.2 917.7L612.8 918.8L612 920.7M616.5 925L637.2 920.1M617.3 926.5L638 921.7M614 924.1L616.3 924.8L617.1 926.1L616.3 928M620.7 932.4L641.6 927.5M621.5 933.7L642.3 928.8M618.3 931.5L620.6 932.2L621.3 933.5L620.4 935.2M624.8 939.6L645.9 934.7M625.7 941.1L646.7 936.2M622.4 938.7L624.7 939.3L625.4 940.6L624.6 942.6M629.1 946.9L650.3 942.1M629.8 948.2L651 943.4M626.6 946L629 946.7L629.6 947.8L628.7 949.7M633.2 954.1L654.6 949.3M634 955.4L655.3 950.6M630.7 953.2L633.1 953.9L633.8 955.2L632.9 956.8M637.3 961.2L658.7 956.4M638.2 962.7L659.6 957.9M634.9 960.3L637.2 961L638 962.3L637.1 964.2M641.5 968.6L662.8 963.6M642.3 969.9L663.5 964.9M639.1 967.7L641.4 968.4L642 969.5L641.1 971.4M645.5 975.8L666.7 970.7M646.2 977.1L667.4 972M643.1 974.9L645.4 975.6L646 976.7L645.1 978.6M649.3 982.8L670.3 977.6M650 984.2L671 978.9M646.9 981.9L649.2 982.6L649.9 983.9L648.9 985.7M652.9 989.9L673.9 984.6M653.6 991.3L674.5 985.9M650.6 989L652.8 989.7L653.4 990.8L652.5 992.8M656.4 996.9L677.2 991.4M657 998.2L677.8 992.8M654 996L656.3 996.7L656.8 997.8L655.8 999.6M659.6 1003.6L680.3 998.1M660.2 1005L680.9 999.4M657.4 1003L659.5 1003.4L660 1004.6L659 1006.4M662.7 1010.4L683.3 1004.8M663.3 1011.6L683.9 1005.9M660.4 1009.5L662.6 1010.2L663.2 1011.3L662.1 1013.2M665.7 1016.8L686.2 1011M666.3 1018.1L686.8 1012.4M663.5 1016.1L665.7 1016.8L666.1 1017.7L665.1 1019.5M668.7 1023.4L689.1 1017.5M669.2 1024.5L689.6 1018.6M666.5 1022.7L668.6 1023.1L669 1024L668 1025.9M671.6 1029.4L691.9 1023.5M672.1 1030.6L692.4 1024.6M669.4 1028.8L671.5 1029.2L672 1030.3L670.9 1032M674.5 1035.5L694.7 1029.4M675 1036.6L695.2 1030.6M672.3 1034.9L674.4 1035.3L674.9 1036.4L673.8 1038M677.3 1041.4L697.4 1035.2M677.9 1042.5L698 1036.3M675.2 1040.7L677.2 1041.1L677.8 1042.3L676.7 1043.9M680.2 1047.2L700.2 1040.9M680.7 1048.3L700.7 1042.1M678 1046.6L680 1047L680.5 1047.9L679.4 1049.5M682.9 1052.8L702.8 1046.5M683.4 1054L703.3 1047.6M680.8 1052.4L682.9 1052.8L683.3 1053.7L682.2 1055.4M685.7 1058.7L705.5 1052.2M686.2 1059.8L706 1053.4M683.5 1058.1L685.6 1058.5L686 1059.4L684.9 1061M688.3 1064.3L708 1057.8M688.8 1065.5L708.6 1058.9M686.3 1064L688.2 1064.1L688.7 1065.2L687.7 1066.9M690.9 1070L710.5 1063.4M691.4 1071.2L711 1064.5M688.9 1069.6L690.9 1070L691.3 1070.9L690.2 1072.6M693.5 1076L713.1 1069.3M693.9 1076.9L713.5 1070.2M691.4 1075.4L693.4 1075.7L693.8 1076.7L692.7 1078.4M695.9 1081.7L715.4 1075.1M696.4 1082.9L715.9 1076.2M693.8 1081.1L695.8 1081.5L696.2 1082.4L695.1 1084.1M698.2 1087.5L717.7 1080.9M698.7 1088.7L718.2 1082M696.2 1086.9L698.1 1087.3L698.5 1088.2L697.4 1089.9M700.4 1093.4L719.9 1086.7M700.9 1094.6L720.3 1087.9M698.4 1092.8L700.3 1093.2L700.7 1094.1L699.5 1095.8M702.5 1099.3L722 1092.6M702.9 1100.5L722.4 1093.8M700.5 1098.6L702.4 1099L702.8 1100L701.6 1101.7M704.4 1105.2L723.8 1098.6M704.6 1106.2L724.1 1099.5M702.5 1104.6L704.3 1105L704.6 1106L703.3 1107.7M705.7 1111.3L725.1 1104.7M705.8 1112.3L725.2 1105.7M703.9 1110.6L705.7 1111.1L705.8 1112.1L704.4 1113.9M706.3 1117.3L725.7 1110.7M706.3 1118.6L725.7 1111.9M704.7 1116.9L706.3 1117.1L706.3 1118.3L704.8 1120.1M706.1 1123.6L725.5 1116.9M706 1124.8L725.3 1118.1M704.7 1122.8L706.1 1123.3L706 1124.3L704.3 1126.1M705 1129.4L724.3 1122.8M704.6 1130.6L723.9 1124M703.8 1129L705 1129.4L704.7 1130.4L702.7 1132.1M702.6 1135.2L721.9 1128.5M702.1 1136.3L721.4 1129.7M701.5 1134.8L702.7 1135L702.3 1135.9L700.2 1137.5" stroke-width="1.6674999999999998"/><path d="M588.4 805.8L585.3 807.8L585.7 809.1L587.9 811.8L584.7 814.4L586.3 816.1L589.9 818.9L586.7 821.8L589.7 823.5L594.3 826.4L590.8 829.7L594.6 830.9L595.9 835L592.4 838L596.5 839.3L598.2 843.3L595 846.2L599.5 847.6L601.5 851.2L598.4 854.1L603 855.4L605.1 859.1L602 861.9L606.8 863.2L609 866.7L606 869.5L610.9 870.7L613.4 874.2L610.4 876.9L615.3 877.9L617.9 881.5L614.9 884.3L619.8 885.3L622.4 888.9L619.3 891.6L624.2 892.6L626.7 896.1L623.6 898.8L628.7 900L631.2 903.4L628.1 906.2L633.2 907.4L635.7 910.8L632.5 913.5L637.5 914.6L640 918L636.8 920.7L642 921.9L644.5 925.4L641.3 928.1L646.3 929.1L648.8 932.5L645.5 935.3L650.8 936.5L653.3 939.9L650 942.7L655.1 943.7L657.6 947.1L654.3 949.8L659.4 950.9L661.7 954.2L658.4 956.9L663.7 958.2L665.8 961.4L662.5 964.2L667.6 965.2L669.7 968.5L666.3 971.3L671.4 972.3L673.3 975.4L670 978.2L675 979.2L676.9 982.3L673.5 985.2L678.5 986.2L680.2 989.1L676.8 992L681.6 992.8L683.4 996L679.9 998.7L684.7 999.4L686.3 1002.4L682.9 1005.1L687.7 1006.1L689.2 1008.9L685.8 1011.6L690.5 1012.3L692.2 1015.3L688.7 1017.9L693.4 1018.6L694.9 1021.3L691.5 1024.1L696.1 1024.5L697.7 1027.2L694.3 1029.8L698.9 1030.5L700.4 1033L697.1 1035.8L701.7 1036.2L703.1 1038.7L699.7 1041.3L704.3 1041.7L705.8 1044.4L702.5 1047.1L707 1047.5L708.4 1050L705.1 1052.6L709.5 1053L711.1 1055.7L707.7 1058.4L712.2 1058.8L713.6 1061.3L710.2 1064L714.6 1064.4L716 1067L712.6 1069.7L717 1070.1L718.4 1072.8L715 1075.5L719.4 1075.9L720.7 1078.5L717.3 1081.3L721.6 1081.7L722.9 1084.4L719.5 1087.1L723.8 1087.5L725 1090.3L721.5 1093L725.8 1093.4L726.9 1096.2L723.4 1099L727.5 1099.4L728.3 1102.3L724.6 1105.1L728.5 1105.6L729 1108.5L725.1 1111.3L728.8 1111.8L729 1114.5L724.9 1117.3L728.4 1117.8L728 1120.7L723.7 1123.4L726.7 1123.8L725.7 1126.5L721.3 1128.9L724.2 1129.3" stroke-width="0.9774999999999999"/>
<path d="M590.6 802.3L591.6 807.8L596.4 804.9L597.3 810.3L602.1 807.5L603 813L607.8 810.2L608.7 815.7L613.5 812.9L614.4 818.4L619.2 815.6L620.1 821.1L624.9 818.3L625.8 823.8L630.6 821.1L631.4 826.6L636.3 823.8L637.1 829.3L642 826.6L642.8 832.1L647.6 829.4L648.4 834.9L653.3 832.2L654 837.7L658.9 835L659.6 840.5L664.5 837.9L665.3 843.4L670.2 840.7L670.9 846.3L675.8 843.6L676.5 849.2L681.4 846.5L682 852.1L687 849.5L687.6 855L692.6 852.4L693.3 857.9L698.2 855.3L698.8 860.8L703.7 858.3L704.2 863.8L709.2 861.5L709.2 867L714.4 865L714.1 870.5L719.4 868.9L718.7 874.4L724.1 873.1L722.9 878.5L728.4 877.8L726.7 883L732.2 882.8L730.1 887.9L735.6 888.1L733.1 893L738.6 893.6L735.7 898.4L741.2 899.4L738 903.9L743.3 905.3L739.8 909.6L745.1 911.4L741.3 915.5L746.4 917.6L742.4 921.3L747.4 923.8L743.1 927.3L747.8 930.1L743.1 932.9L747.3 936.4L742.2 938.3L745.7 942.5L740.3 943.4" stroke-width="1.15"/>
<path d="M741.8 950.6L740.7 951.7L739.6 952.7L738.4 953.6L737.1 954.6L735.8 955.5L734.4 956.5L732.9 957.4L731.4 958.3L729.8 959.2L728.1 960L726.4 960.8L724.6 961.6L722.7 962.4L720.9 963.2L718.9 964L716.8 964.8L714.7 965.5L712.5 966.3L710.3 967L708.1 967.8L706 968.5L704 969.2L702.1 969.9L700.3 970.5L698.6 971.1L696.9 971.8L695.3 972.4L693.7 973L692.2 973.6L690.7 974.3L689.4 974.9L688.2 975.5L687 976.1L685.9 976.7L684.8 977.4L683.8 978.1" stroke-width="1.15"/>
<path d="M741.8 950.6L735.2 947.9L733.3 949.4L734.8 956.2L734.6 956.3L728.6 952.4L726.4 953.6L726.7 960.7L726.5 960.8L721 956.1L718.5 957.2L718.2 964.3L718 964.3L712.9 959.3L710.3 960.2L709.5 967.3L709.3 967.4L704.2 962.2L701.4 963.2L700.8 970.3L700.6 970.4L695.4 965.4L692.6 966.4L692.1 973.6L691.9 973.7L686.3 969.2L683.6 970.5L684 977.9L683.8 978.1" stroke-width="1.15"/>
<path d="M701.4 1047.9L699.4 1054.1L705.9 1052.9L704.2 1059.3L710.6 1057.7L709 1064.1L715.4 1062.5L713.8 1068.8L720.1 1067.3L718.4 1073.5L724.7 1072.2L722.7 1078.3L729.1 1077.3L726.8 1083.4L733.3 1082.6L730.8 1088.6L737.3 1088L734.7 1094L741.2 1093.5L738.6 1099.5L745.1 1099L742.5 1105L749 1104.4L746.5 1110.5L753 1109.9L750.5 1115.9L757 1115.3L754.3 1121.2L760.8 1120.9L757.7 1126.5L764.1 1126.7L760.4 1132L766.8 1132.9L762.6 1137.8L768.9 1139.3L764.2 1143.7L770.2 1145.9L764.8 1149.2L770.1 1152.6" stroke-width="1.15"/>
<path d="M766 1153.5L766.2 1163.9L758.8 1156.8L757 1157.7L757.3 1168L749.9 1161L748.1 1161.8L748.3 1172.2L740.9 1165.1L739.1 1166L739.4 1176.3L732 1169.3L730.2 1170.1L730.4 1180.5L723 1173.4L721.2 1174.2L721.5 1184.6L714.1 1177.6L712.3 1178.4L712.5 1188.8L705.1 1181.7L703.4 1182.5L703.6 1192.9L696.2 1185.9L694.4 1186.7L694.6 1197.1L687.2 1190L685.5 1190.8L685.7 1201.2L678.3 1194.2L676.5 1195" stroke-width="1.15"/>
<path d="M766 1153.5L676.5 1195" stroke-width="1.15"/>
<path d="M645 1161.5L645.2 1154.2L651 1158.6L651.2 1151.3L657 1155.7L657.2 1148.4L663 1152.8L663.2 1145.5L669 1149.9L669.2 1142.6L675 1147.1L675.2 1139.8L681 1144.2L681.2 1136.9L687 1141.3L687.2 1134L693 1138.4L693.2 1131.1" stroke-width="1.15"/>
<path d="M640 1156.5L662 1146L690 1134.5" stroke-width="1.15"/>
<path d="M639 1167L666 1160.5L667.5 1166L640.5 1172.5ZM642 1175.5L660.9 1171M641 1179.5L665.8 1173.5L667.3 1179L642.5 1185ZM644 1188L661.4 1183.8M645 1191L667.7 1185.5L669.2 1191L646.5 1196.5ZM648 1199.5L663.9 1195.7M652 1201L672.5 1196.1L674 1201.6L653.5 1206.5ZM655 1209.5L669.4 1206" stroke-width="1.15"/>
<path d="M667.5 1166L660.9 1171L667.3 1179L661.4 1183.8L669.2 1191L663.9 1195.7L674 1201.6L669.4 1206" stroke-width="1.15"/>
</g>
<!-- 41_kit_tpulley.svg -->
<g><g class="w15">
<path class="k" d="M899.9 832.1L926.4 823.1L928.6 822.5L930.8 822.1L933.1 822L935.4 822.2L937.7 822.6L940 823.3L942.3 824.2L944.5 825.4L946.7 826.8L948.8 828.4L950.9 830.2L952.8 832.3L954.7 834.5L956.5 837L958.1 839.6L959.6 842.3L960.9 845.2L962.2 848.1L963.2 851.2L964.1 854.4L964.8 857.6L965.4 860.8L965.7 864.1L965.9 867.4L965.9 870.6L965.7 873.8L965.4 877L964.9 880L964.2 883L963.3 885.8L962.3 888.5L961.1 891.1L959.7 893.5L958.2 895.7L956.6 897.7L954.9 899.4L953 901L951 902.3L949 903.5L946.9 904.3L920.4 913.3"/><ellipse class="k" cx="910.2" cy="872.7" rx="42" ry="28.8" transform="rotate(80 910.2 872.7)"/>
<path class="k" d="M892 896.6L888.6 890.1L886.2 882.8L884.7 875.2L884.2 867.6L884.7 860.1L886.3 853.2L888.8 847L892.2 841.8L896.3 837.8L900.9 835.2L906 834.1L911.3 834.4L916.5 836.3L921.6 839.5L926.2 844.1L930.3 849.8L933.7 856.3L936.1 863.6L937.6 871.2L938.1 878.8L937.6 886.3L936 893.2L933.5 899.4L930.1 904.6"/>
<ellipse class="k" cx="894.4" cy="889.4" rx="4.8" ry="3.4" transform="rotate(75 894.4 889.4)"/>
<ellipse class="k" cx="896.4" cy="886.9" rx="11.5" ry="8" transform="rotate(75 896.4 886.9)"/>
<path class="k" d="M889.5 874.5L890.9 872.9L892.6 871.9L894.4 871.3L896.4 871.2L898.4 871.6L900.4 872.6L902.3 874.1L904 875.9L905.4 878.1L906.5 880.6L907.3 883.2L907.7 885.9L907.7 888.6L907.3 891.1L906.5 893.4L905.4 895.3L904 896.9L902.3 898L900.4 898.6L898.4 898.7L896.4 898.2L894.4 897.2L892.5 895.8L890.9 893.9"/>
<ellipse class="k" cx="899.4" cy="883.9" rx="18.5" ry="13" transform="rotate(75 899.4 883.9)"/>
<path class="k" d="M885.2 876L886 872.4L887.3 869.1L889.1 866.4L891.3 864.2L893.9 862.7L896.7 861.9L899.7 861.8L902.7 862.6L905.6 864L908.4 866.1L910.9 868.8L913.1 872L914.8 875.7L916 879.5L916.7 883.5L916.9 887.5L916.4 891.3L915.4 894.8L913.9 897.9L912 900.4L909.6 902.3L906.9 903.6L904 904.1L901 903.8"/>
<ellipse class="k" cx="902.9" cy="884.9" rx="25" ry="18" transform="rotate(75 902.9 884.9)"/>
<path class="t" d="M903 847.4C904.5 847.8 909.2 848 911.8 849.6C914.4 851.3 916.6 854.4 918.4 857.3C920.2 860.2 921.7 864.1 922.8 867.2C923.9 870.3 924.6 874.5 925 876"/>
<path class="t" d="M904.9 846.3C906.5 846.8 911.6 847.3 914.3 849.1C917 850.8 919.3 854 921.2 857C923 860 924.5 863.8 925.6 866.9C926.6 870 927.2 874.3 927.5 875.7"/>
<path class="t" d="M906.9 845.2C908.5 845.8 913.9 846.6 916.8 848.5C919.6 850.4 922 853.7 923.9 856.8C925.8 859.8 927.3 863.5 928.3 866.7C929.3 869.8 929.7 874 930 875.5"/>
<path class="t" d="M908.8 844.1C910.5 844.7 916.2 845.9 919.2 848C922.2 850 924.7 853.4 926.7 856.5C928.6 859.5 930.1 863.3 931.1 866.4C932 869.5 932.2 873.7 932.4 875.2"/>
<path class="t" d="M910.7 843C912.5 843.7 918.6 845.2 921.7 847.4C924.8 849.6 927.4 853.1 929.4 856.2C931.4 859.3 932.9 863 933.8 866.1C934.7 869.2 934.7 873.4 934.9 874.9"/>
<path class="k" d="M882.1 848L886.5 845L899.7 846.9L899.5 858.4M886.5 845L892.6 841.9L910.7 842.5L909.6 844.1L899.7 846.9M895.9 841.9L901.9 832M899.7 836.4L903.6 835.3M903 845.4L908 845L907.4 846.9"/>
<path class="k" d="M890.4 850.2L893.3 849.6L894 854.9L891.1 855.7ZM884.9 851.8L886.5 857.3L885.4 857.5"/>
<path class="k" d="M914 877.1L918.4 878L919 881.5L925 880.4L925 882.6L919 883.9L918.4 885.9L914.6 884.8Z"/>
<ellipse class="k" cx="931.8" cy="878.8" rx="1.6" ry="2.6"/>
<ellipse class="k" cx="931.8" cy="885.4" rx="1.8" ry="3"/>
<path class="k" d="M933.3 873.3C933.7 874.4 935.7 877.7 936 880.4C936.3 883.1 935.6 886.6 934.9 889.2C934.2 891.8 933.3 893.6 931.6 895.8C930 898 927.6 900.6 925 902.4C922.4 904.2 917.7 906.1 916.2 906.8M928.3 876C928.6 877.5 930.1 881.9 930 884.8C929.8 887.7 928.6 891.2 927.2 893.6C925.8 896 923.5 897.5 921.7 899.1C919.9 900.8 917.1 902.8 916.2 903.5"/>
<path class="k" d="M919 885.9C919.2 887 920.7 890.3 920.6 892.5C920.5 894.7 919.3 897.3 918.4 899.1C917.5 900.9 915.7 902.8 915.1 903.5M900.8 905.7L901.9 907.4L906.3 906.8L906.3 909.6"/>
</g></g>
<!-- 42_kit_rot.svg -->
<g><g class="w18"><path class="k" d="M811.9 936.4L835.9 923.4L837.5 922.7L839.3 922.1L841.1 921.7L843 921.5L845 921.5L847 921.8L849 922.2L851.1 922.8L853.1 923.6L855.1 924.7L857.2 925.8L859.2 927.2L861.1 928.8L863 930.5L864.8 932.3L866.5 934.3L868.2 936.4L869.7 938.7L871.2 941L872.5 943.4L873.7 945.9L874.7 948.4L875.6 951L876.4 953.6L877 956.2L877.5 958.8L877.8 961.3L877.9 963.8L877.9 966.3L877.7 968.7L877.3 971L876.8 973.2L876.2 975.3L875.4 977.3L874.4 979.1L873.3 980.8L872.1 982.3L870.8 983.6L869.3 984.8L867.7 985.7L843.7 998.7"/><ellipse class="k" cx="827.8" cy="967.6" rx="35" ry="23.5" transform="rotate(64 827.8 967.6)"/><ellipse class="k" cx="827.8" cy="967.6" rx="34.4" ry="23" transform="rotate(64 827.8 967.6)" style="stroke-width:2.6"/><ellipse class="k" cx="828.4" cy="967.4" rx="31" ry="19.8" transform="rotate(64 828.4 967.4)"/><path class="t" d="M836.1 993.2L832.2 992.3L828.2 990.4L824.3 987.5L820.6 983.8L817.3 979.4L814.5 974.4L812.4 969.2L810.9 963.9L810.2 958.7L810.4 953.8L811.3 949.5L813 945.9L815.4 943.2L818.4 941.4L821.9 940.8L825.7 941.2L829.6 942.6L833.6 945.1L837.4 948.5L840.9 952.6L843.9 957.4L846.4 962.5L848.2 967.8L849.2 973.1"/><ellipse class="k" cx="830.2" cy="967" rx="24" ry="14" transform="rotate(64 830.2 967)"/><path class="k" d="M843.7 971.8L844 975.1L843.8 978.1L843.1 980.7L842 982.8L840.5 984.4L838.7 985.3L836.5 985.6L834.2 985.2L831.7 984.2L829.2 982.5L826.8 980.3L824.5 977.7L822.4 974.6L820.7 971.3L819.2 967.8L818.2 964.3L817.7 960.9L817.6 957.7L818 954.8L818.8 952.4L820.1 950.5L821.7 949.2L823.7 948.5L825.9 948.5"/><ellipse class="k" cx="831.4" cy="967.2" rx="15" ry="8.6" transform="rotate(64 831.4 967.2)"/><path class="k" d="M824.6 962.2L830 957.2L837.2 962.2L838.2 971.2L833.2 977L826 972.1Z"/><path class="t" d="M830 957.2L831.8 964L838.2 971.2M831.8 964L826 972.1"/><path class="k" d="M867.4 938.8C868.1 938.2 870.1 935.5 871.9 935.2C873.7 934.9 877 935.6 878.2 937C879.4 938.3 879.9 941.6 879.3 943.3C878.7 945 875.4 946.4 874.6 947.1"/></g>
<g class="w18"><path class="k" d="M894.6 1033.9L915.1 1022.4L916 1022L916.8 1021.7L917.7 1021.5L918.6 1021.4L919.6 1021.4L920.6 1021.5L921.5 1021.7L922.5 1021.9L923.5 1022.3L924.5 1022.8L925.5 1023.4L926.5 1024L927.4 1024.8L928.4 1025.6L929.3 1026.5L930.1 1027.4L930.9 1028.5L931.7 1029.5L932.4 1030.7L933 1031.8L933.6 1033L934.1 1034.2L934.6 1035.5L935 1036.8L935.3 1038L935.5 1039.3L935.7 1040.5L935.7 1041.8L935.7 1043L935.6 1044.1L935.5 1045.3L935.2 1046.3L934.9 1047.4L934.5 1048.3L934.1 1049.2L933.6 1050L933 1050.8L932.3 1051.5L931.6 1052L930.8 1052.5L910.3 1064"/><ellipse class="k" cx="902.5" cy="1048.9" rx="17" ry="11.5" transform="rotate(64 902.5 1048.9)"/><ellipse class="k" cx="902.5" cy="1048.9" rx="16.6" ry="11.1" transform="rotate(64 902.5 1048.9)" style="stroke-width:2.6"/><ellipse class="k" cx="903.1" cy="1048.9" rx="8.4" ry="5.2" transform="rotate(64 903.1 1048.9)"/><ellipse class="b" cx="903.1" cy="1048.9" rx="8.4" ry="5.2" transform="rotate(64 903.1 1048.9)"/><ellipse class="kf" cx="904.9" cy="1048.5" rx="5.8" ry="3.2" transform="rotate(64 904.9 1048.5)" style="stroke:none"/><ellipse class="t" cx="902.7" cy="1048.9" rx="14.4" ry="9.4" transform="rotate(64 902.7 1048.9)"/><path class="k" d="M924.1 1023.8L932.2 1021.2L937.9 1023.8M936.1 1046.8L942.1 1036L943 1028.8M937.9 1023.8L943 1018L952.9 1015.8M943 1036L954.7 1027.9"/><path class="k" d="M950.4 1016.8L951.3 1016.8L952.5 1017.6L953.9 1019L955.2 1021L956.2 1023L956.8 1024.9L956.9 1026.4L956.4 1027.1"/><path class="t" d="M942.1 1020L943 1020L944.3 1020.8L945.6 1022.3L946.9 1024.2L947.9 1026.3L948.5 1028.2L948.6 1029.6L948.1 1030.4"/><path class="t" d="M944.8 1018.6L945.7 1018.6L947 1019.4L948.3 1020.8L949.6 1022.8L950.6 1024.8L951.2 1026.7L951.3 1028.2L950.8 1028.9"/><path class="t" d="M947.5 1017.1L948.4 1017.1L949.7 1017.9L951 1019.4L952.3 1021.3L953.3 1023.4L953.9 1025.3L954 1026.7L953.5 1027.5"/></g></g>
<!-- 99_watermark.svg -->
<text x="0" y="0" dx="0 0 0 0 0 0 0 0 0 0 0 7" dy="0 0 0 0 0 0 0 0 0 0 0 5" transform="matrix(0.6332,-0.7789,0.7273,0.6706,148.2,1122.6)" font-family="'Liberation Sans',sans-serif" font-size="176" fill="#000" fill-opacity="0.098">чинамобил.рф</text>
</svg>
</body>
</html>
